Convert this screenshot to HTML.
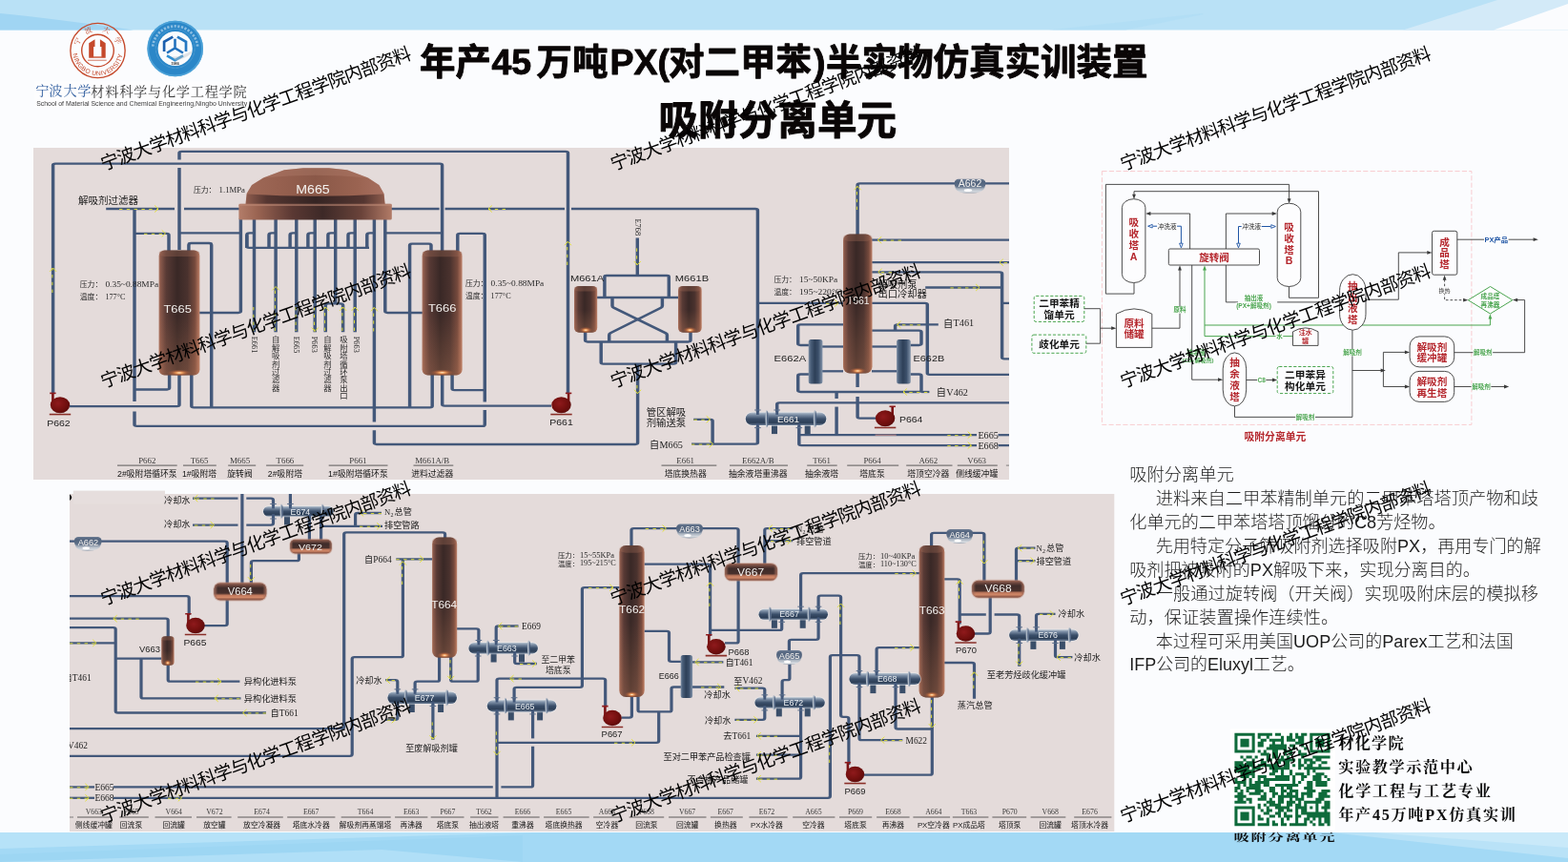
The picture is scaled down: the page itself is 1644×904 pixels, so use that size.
<!DOCTYPE html>
<html lang="zh"><head><meta charset="utf-8"><title>年产45万吨PX(对二甲苯)半实物仿真实训装置 - 吸附分离单元</title>
<style>
html,body{margin:0;padding:0;background:#fbfcfe;overflow:hidden}
body{width:1644px;height:904px;overflow:hidden;position:relative;font-family:"Liberation Sans","Noto Sans CJK SC",sans-serif;}
svg{position:absolute;left:0;top:0;display:block;will-change:transform}
svg text{font-family:"Liberation Sans","Noto Sans CJK SC",sans-serif}
svg text.s{font-family:"Liberation Serif","Noto Serif CJK SC",serif}
.t{position:absolute;color:transparent;white-space:nowrap;overflow:hidden;line-height:1.2;font-family:"Liberation Sans","Noto Sans CJK SC",sans-serif;pointer-events:none}
</style></head><body>
<svg width="1644" height="904" viewBox="0 0 1644 904"><defs><linearGradient id="gv" x1="0" x2="1" y1="0" y2="0"><stop offset="0" stop-color="#ac7461"/><stop offset=".05" stop-color="#86574a"/><stop offset=".18" stop-color="#583a35"/><stop offset=".45" stop-color="#392826"/><stop offset=".7" stop-color="#4a322e"/><stop offset=".88" stop-color="#764a3d"/><stop offset=".96" stop-color="#a66b56"/><stop offset="1" stop-color="#be856e"/></linearGradient>
<linearGradient id="gh" x1="0" x2="0" y1="0" y2="1"><stop offset="0" stop-color="#a06a59"/><stop offset=".14" stop-color="#6c463d"/><stop offset=".3" stop-color="#3f2c2a"/><stop offset=".6" stop-color="#48302c"/><stop offset=".72" stop-color="#c0795d"/><stop offset=".84" stop-color="#d08868"/><stop offset=".93" stop-color="#9a5f4c"/><stop offset="1" stop-color="#8a5747"/></linearGradient><linearGradient id="ghe" x1="0" x2="1" y1="0" y2="0"><stop offset="0" stop-color="#a06a59" stop-opacity=".95"/><stop offset=".07" stop-color="#a06a59" stop-opacity="0"/><stop offset=".93" stop-color="#a06a59" stop-opacity="0"/><stop offset="1" stop-color="#a06a59" stop-opacity=".95"/></linearGradient>
<radialGradient id="glow" cx=".5" cy=".5" r=".5"><stop offset="0" stop-color="#fff3d8"/><stop offset=".25" stop-color="#f0a060"/><stop offset=".6" stop-color="#c06a40" stop-opacity=".55"/><stop offset="1" stop-color="#a05a40" stop-opacity="0"/></radialGradient>
<linearGradient id="sv" x1="0" x2="1" y1="0" y2="0"><stop offset="0" stop-color="#7f90a6"/><stop offset=".15" stop-color="#4b607b"/><stop offset=".45" stop-color="#2e4058"/><stop offset=".7" stop-color="#3b4f6a"/><stop offset="1" stop-color="#8394aa"/></linearGradient>
<linearGradient id="sh" x1="0" x2="0" y1="0" y2="1"><stop offset="0" stop-color="#b9c4d0"/><stop offset=".18" stop-color="#7d8fa6"/><stop offset=".5" stop-color="#3a4e69"/><stop offset=".8" stop-color="#2d3f57"/><stop offset="1" stop-color="#6e8098"/></linearGradient>
<linearGradient id="ac" x1="0" x2="0" y1="0" y2="1"><stop offset="0" stop-color="#6b7b92"/><stop offset=".3" stop-color="#52647e"/><stop offset=".75" stop-color="#5d6e86"/><stop offset="1" stop-color="#8e9aab"/></linearGradient><linearGradient id="acb" x1="0" x2="0" y1="0" y2="1"><stop offset="0" stop-color="#8d99a9"/><stop offset=".5" stop-color="#b8c0ca"/><stop offset=".8" stop-color="#d9dde2"/><stop offset="1" stop-color="#8f9aa8"/></linearGradient>
<radialGradient id="pg" cx=".4" cy=".4" r=".65"><stop offset="0" stop-color="#8f1a1c"/><stop offset=".6" stop-color="#74100f"/><stop offset="1" stop-color="#5a0b0b"/></radialGradient>
<linearGradient id="dome" x1="0" x2="1" y1="0" y2="0"><stop offset="0" stop-color="#a06a58"/><stop offset=".25" stop-color="#96604f"/><stop offset=".5" stop-color="#8a5848"/><stop offset=".8" stop-color="#9a6351"/><stop offset="1" stop-color="#a87060"/></linearGradient>
<linearGradient id="domeb" x1="0" x2="1" y1="0" y2="0"><stop offset="0" stop-color="#8e5c4d"/><stop offset=".15" stop-color="#553631"/><stop offset=".5" stop-color="#352423"/><stop offset=".85" stop-color="#553631"/><stop offset="1" stop-color="#8e5c4d"/></linearGradient>
<linearGradient id="flg" x1="0" x2="1" y1="0" y2="0"><stop offset="0" stop-color="#b37d69"/><stop offset=".12" stop-color="#9a6452"/><stop offset=".35" stop-color="#5a3833"/><stop offset=".55" stop-color="#3d2927"/><stop offset=".8" stop-color="#6a433a"/><stop offset="1" stop-color="#b17a66"/></linearGradient>
<linearGradient id="vlt" x1="0" x2="0" y1="0" y2="1"><stop offset="0" stop-color="#c8835f" stop-opacity="0"/><stop offset=".5" stop-color="#c8835f" stop-opacity="0"/><stop offset="1" stop-color="#c8835f" stop-opacity=".3"/></linearGradient>
</defs><rect width="1644" height="904" fill="#fbfcfe"/><rect width="1644" height="31.5" fill="#b9e1f6"/><path d="M0 14 Q60 20 140 31.5 L0 31.5Z" fill="#a0d5f3"/><path d="M1100 31.5 L1260 14 L1262 15 L1180 31.5Z" fill="#aedcf5" opacity=".6"/><path d="M1471 31.5 L1570 0 L1644 0 L1644 31.5Z" fill="#d3eaf8"/><path d="M1566 31.5 L1644 4 L1644 31.5Z" fill="#fbfcfe"/><rect y="873" width="1644" height="31" fill="#a3d9f5"/><path d="M1395 873L1644 900V873Z" fill="#b9e2f7"/><path d="M1440 873L1644 889V873Z" fill="#c9e9f9"/><path d="M0 873 L560 873 L0 890Z" fill="#b6e2f8"/><path d="M0 904 L0 896 L548 876 L548 904Z" fill="#9dd6f3"/><path d="M0 904 L400 891 L548 904Z" fill="#b0dff7"/><rect x="35" y="155" width="1023" height="348" fill="#e4dbda"/><path d="M73 518H1168.3V872H73Z" fill="#e4dbda"/><rect x="76.8" y="514.6" width="96.2" height="14" fill="#e6dedd"/><path d="M73 518.2Q77.5 521.6 73 525Z" fill="#0a0a0a"/>
<g font-size="37.5" font-weight="bold" fill="#0a0606" stroke="#0a0606" stroke-width="0.9" stroke-linejoin="round"><text x="440" y="77.5">年产</text><text x="515.5" y="77.5">45</text><text x="562.5" y="77.5">万吨</text><text x="639.5" y="77.5">PX(</text><text x="701" y="77.5">对二甲苯</text><text x="853" y="77.5">)</text><text x="866" y="77.5">半实物仿真实训装置</text></g><text x="690.5" y="141" font-size="41.6" font-weight="bold" fill="#0a0606" stroke="#0a0606" stroke-width="1" stroke-linejoin="round">吸附分离单元</text><g fill="none" stroke="#c5492b"><circle cx="102.5" cy="53" r="28.65" stroke-width="1.35"/><circle cx="102.5" cy="53" r="16.8" stroke-width="1.4"/></g><path d="M93.2 60.7V45.2L99.5 41.3V49.1H98.1V59.2H106.4V49.1H104.9V41.3L110.7 45.2V60.7Z" fill="#c5492b"/><path d="M98.1 59.2H106.4V60.7H98.1Z" fill="#d98a74"/><path d="M92 63.2H111.7" stroke="#c5492b" stroke-width=".75"/><path id="arc1" d="M76.46 56.66A26.3 26.3 0 0 0 128.54 56.66" fill="none"/><text font-size="6.7" fill="#c5492b" textLength="74.3" lengthAdjust="spacing"><textPath href="#arc1" textLength="74.3" lengthAdjust="spacing">NINGBO UNIVERSITY</textPath></text><text class="s" transform="translate(83.68 44.62) rotate(-66)" font-size="7.6" text-anchor="middle" fill="#c5492b">宁</text><text class="s" transform="translate(93.79 34.33) rotate(-25)" font-size="7.6" text-anchor="middle" fill="#c5492b">波</text><text class="s" transform="translate(110.55 34.04) rotate(23)" font-size="7.6" text-anchor="middle" fill="#c5492b">大</text><text class="s" transform="translate(120.85 43.65) rotate(63)" font-size="7.6" text-anchor="middle" fill="#c5492b">学</text><circle cx="183.7" cy="51" r="29.3" fill="#2b87c8"/><circle cx="183.7" cy="51" r="28.4" fill="none" stroke="#55a9dc" stroke-width="1.8" opacity=".75"/><circle cx="183.7" cy="51" r="18.1" fill="#f9fbfd"/><circle cx="183.7" cy="51" r="20.4" fill="none" stroke="#cfe6f5" stroke-width="0.55" stroke-dasharray="0.5 0.8" opacity=".7"/><path d="M160.23 48.53A23.6 23.6 0 0 1 207.17 48.53" fill="none" stroke="#e9f4fb" stroke-width="2.7" stroke-dasharray="2.2 1.5" opacity=".5"/><g fill="none" stroke-width="2.7" stroke-linejoin="miter"><path d="M181.3 38.6L172.1 43.9V53.9" stroke="#1c5fae"/><path d="M185.9 38.6L195 43.9V53.9" stroke="#2678c2"/><path d="M183.5 40.8V50.5M175 55.5L183.5 50.4L192 55.5" stroke="#2271bd" stroke-width="2.6"/><path d="M175 58.3L183.5 63.2L192 58.3" stroke="#2f8fd1"/></g><path d="M180 59.5Q190 60 200.5 53.5L201 56Q192 62.5 184 63.5Z" fill="#b9bdc4" opacity=".4"/><text x="183.6" y="68.4" font-size="3.7" font-weight="bold" text-anchor="middle" fill="#2a2a2a">1986</text><rect x="36.5" y="85.5" width="223.5" height="27" fill="#fdfdfe"/><text class="s" x="37.3" y="100.2" font-size="14.2" fill="#2f5d9e">宁</text><text class="s" x="51.2" y="100.2" font-size="14.2" fill="#2f5d9e">波</text><text class="s" x="66.6" y="100.2" font-size="14.2" fill="#2f5d9e">大</text><text class="s" x="81.2" y="100.2" font-size="14.2" fill="#2f5d9e">学</text><text class="s" x="95.3" y="100.6" font-size="14.2" fill="#3a3a3a" textLength="163.4" lengthAdjust="spacing">材料科学与化学工程学院</text><text x="38.2" y="110.9" font-size="6.8" fill="#3c3c3c" textLength="221" lengthAdjust="spacingAndGlyphs">School of Material Science and Chemical Engineering,Ningbo University</text>
<clipPath id="c1"><rect x="35" y="155" width="1023" height="348"/></clipPath><g clip-path="url(#c1)"><g fill="none" stroke="#43587a" stroke-width="3.45" stroke-linejoin="round" stroke-linecap="butt" transform="scale(1 0.66)"><path d="M188 396.97L188 266.67"/><path d="M188 253.64L188 243.11Q188 240.61 190.5 240.61L593 240.61Q595.5 240.61 595.5 243.11L595.5 624.24"/><path d="M55.6 625L55.6 262.65Q55.6 260.15 58.1 260.15L461.1 260.15Q463.6 260.15 463.6 262.65L463.6 398.48"/><path d="M111.2 331.82L183 331.82"/><path d="M193 331.82L251 331.82"/><path d="M410 331.82L460.6 331.82"/><path d="M466.6 331.82L592 331.82"/><path d="M599 331.82L791.9 331.82Q794.4 331.82 794.4 334.32L794.4 703.11Q794.4 705.61 791.9 705.61L725 705.61"/><path d="M141 331.82L141 637.88"/><path d="M141 653.79L141 674.62Q141 677.12 143.5 677.12L505.8 677.12Q508.3 677.12 508.3 674.62L508.3 651.52"/><path d="M508.3 638.64L508.3 373.41Q508.3 370.91 505.8 370.91L482.3 370.91Q479.8 370.91 479.8 373.41L479.8 400"/><path d="M141 371.06L174.5 371.06Q177 371.06 177 373.56L177 400"/><path d="M188 370.3L252.4 370.3"/><path d="M197.9 400L197.9 388.86Q197.9 386.36 200.4 386.36L219.2 386.36Q221.7 386.36 221.7 388.86L221.7 647.58"/><path d="M207 496.97L249.9 496.97Q252.4 496.97 252.4 494.47L252.4 346.97"/><path d="M177.6 593.94L177.6 616.44Q177.6 618.94 175.1 618.94L141 618.94"/><path d="M73 645.76L185.5 645.76Q188 645.76 188 643.26L188 593.94"/><path d="M200.8 593.94L200.8 645.08Q200.8 647.58 203.3 647.58L450.7 647.58Q453.2 647.58 453.2 645.08L453.2 593.94"/><path d="M266.5 346.97L266.5 527.73"/><path d="M289.1 346.97L289.1 527.73"/><path d="M310.8 346.97L310.8 527.73"/><path d="M330.2 346.97L330.2 527.73"/><path d="M372.2 346.97L372.2 527.73"/><path d="M351.7 346.97L351.7 482.27"/><path d="M341.3 527.73L341.3 485.27Q341.3 482.27 344.3 482.27L356.6 482.27Q359.6 482.27 359.6 485.27L359.6 527.73"/><path d="M392.4 346.97L392.4 670.61"/><path d="M392.4 683.64L392.4 703.56Q392.4 706.06 394.9 706.06L666.1 706.06Q668.6 706.06 668.6 703.56L668.6 578.18"/><path d="M403.8 346.97L403.8 494.47Q403.8 496.97 406.3 496.97L443 496.97"/><path d="M403.8 370.3L463.6 370.3"/><path d="M258.8 373.48L258.8 391.29Q258.8 393.79 261.3 393.79L387 393.79"/><path d="M258.8 393.94L258.8 373.3Q258.8 370.3 261.8 370.3L266.5 370.3"/><path d="M282 393.94L282 373.3Q282 370.3 285 370.3L289.1 370.3"/><path d="M304.1 393.94L304.1 373.3Q304.1 370.3 307.1 370.3L310.8 370.3"/><path d="M322.9 393.94L322.9 373.3Q322.9 370.3 325.9 370.3L330.2 370.3"/><path d="M343.9 393.94L343.9 373.3Q343.9 370.3 346.9 370.3L351.7 370.3"/><path d="M365 393.94L365 373.3Q365 370.3 368 370.3L372.2 370.3"/><path d="M384.8 393.94L384.8 373.3Q384.8 370.3 387.8 370.3L392.4 370.3"/><path d="M452 400L452 389.92Q452 387.42 449.5 387.42L432.1 387.42Q429.6 387.42 429.6 389.92L429.6 647.58"/><path d="M463.7 593.94L463.7 642.35Q463.7 644.85 466.2 644.85L578 644.85"/><path d="M474.1 593.94L474.1 617.5Q474.1 620 476.6 620L508.3 620"/><path d="M668.3 378.03L668.3 437.88"/><path d="M633.9 472.73L633.9 439.88Q633.9 437.88 635.9 437.88L699.3 437.88Q701.3 437.88 701.3 439.88L701.3 472.73"/><path d="M625 472.73L712 472.73"/><path d="M642 472.73L642 485.88Q642 487.88 643.61 489.07L697.79 529.11Q699.4 530.3 699.4 532.3L699.4 543.18"/><path d="M694.4 472.73L694.4 485.88Q694.4 487.88 692.81 489.09L640.29 529.09Q638.7 530.3 638.7 532.3L638.7 543.18"/><path d="M613.6 525.76L613.6 540.68Q613.6 543.18 616.1 543.18L721.5 543.18Q724 543.18 724 540.68L724 525.76"/><path d="M630.2 543.18L630.2 575.68Q630.2 578.18 632.7 578.18L706.1 578.18Q708.6 578.18 708.6 575.68L708.6 543.18"/><path d="M727.2 666.36L744.6 666.36Q747.1 666.36 747.1 668.86L747.1 705.61"/><path d="M794.4 481.67L884 481.67"/><path d="M899.1 372.73L899.1 294.02Q899.1 291.52 901.6 291.52L1058 291.52"/><path d="M914 381.36L1058 381.36"/><path d="M914 416.97L1058 416.97"/><path d="M914 432.27L1048.1 432.27Q1050.6 432.27 1050.6 434.77L1050.6 567.65Q1050.6 570.15 1053.1 570.15L1058 570.15"/><path d="M970.2 456.82L1050.6 456.82"/><path d="M1050.6 481.67L1058 481.67"/><path d="M914 481.67L969.8 481.67Q972.3 481.67 972.3 484.17L972.3 592.8Q972.3 595.3 974.8 595.3L1058 595.3"/><path d="M848 548.48L839.2 548.48Q836.7 548.48 836.7 545.98L836.7 518.26Q836.7 515.76 839.2 515.76L884 515.76"/><path d="M862 550.76L884 550.76"/><path d="M862 589.85L884 589.85"/><path d="M848 594.7L839.2 594.7Q836.7 594.7 836.7 597.2L836.7 620.23Q836.7 622.73 839.2 622.73L963.5 622.73Q966 622.73 966 620.23L966 597.2Q966 594.7 963.5 594.7L954.5 594.7"/><path d="M914 525.3L963.5 525.3Q966 525.3 966 527.8L966 545.98Q966 548.48 963.5 548.48L954.5 548.48"/><path d="M914 550.76L940.4 550.76"/><path d="M914 589.85L940.4 589.85"/><path d="M983.8 515.76L941.1 515.76Q938.6 515.76 938.6 518.26L938.6 525.3"/><path d="M974.4 622.73L966 622.73"/><path d="M899.1 592.42L899.1 615.15"/><path d="M899.1 630.3L899.1 662.2Q899.1 664.7 901.6 664.7L918 664.7"/><path d="M814.7 656.06L814.7 642.35Q814.7 639.85 817.2 639.85L1058 639.85"/><path d="M877.1 622.73L877.1 633.33"/><path d="M877.1 646.36L877.1 691.21"/><path d="M837.8 674.24L837.8 705.23Q837.8 707.73 840.3 707.73L1024 707.73"/><path d="M1046.5 707.73L1058 707.73"/><path d="M837.8 691.21L1024 691.21"/><path d="M1046.5 691.21L1058 691.21"/></g><rect x="166.6" y="262.4" width="42.8" height="131.2" rx="6" ry="6" fill="url(#gv)"/><rect x="166.6" y="262.4" width="42.8" height="6.6" rx="6" ry="6" fill="#a06a57" opacity=".35"/><rect x="166.6" y="262.4" width="42.8" height="131.2" rx="6" ry="6" fill="url(#vlt)"/><ellipse cx="188" cy="391" rx="12.84" ry="3.4" fill="url(#glow)"/><rect x="442.6" y="262.6" width="42" height="130.8" rx="6" ry="6" fill="url(#gv)"/><rect x="442.6" y="262.6" width="42" height="6.6" rx="6" ry="6" fill="#a06a57" opacity=".35"/><rect x="442.6" y="262.6" width="42" height="130.8" rx="6" ry="6" fill="url(#vlt)"/><ellipse cx="463.6" cy="390.8" rx="12.6" ry="3.4" fill="url(#glow)"/><rect x="602" y="299.9" width="24.2" height="48.9" rx="5" ry="5" fill="url(#gv)"/><rect x="602" y="299.9" width="24.2" height="5.5" rx="5" ry="5" fill="#a06a57" opacity=".35"/><rect x="602" y="299.9" width="24.2" height="48.9" rx="5" ry="5" fill="url(#vlt)"/><ellipse cx="614.1" cy="346.2" rx="7.26" ry="3.4" fill="url(#glow)"/><rect x="711" y="299.9" width="24.7" height="48.9" rx="5" ry="5" fill="url(#gv)"/><rect x="711" y="299.9" width="24.7" height="5.5" rx="5" ry="5" fill="#a06a57" opacity=".35"/><rect x="711" y="299.9" width="24.7" height="48.9" rx="5" ry="5" fill="url(#vlt)"/><ellipse cx="723.35" cy="346.2" rx="7.41" ry="3.4" fill="url(#glow)"/><rect x="884" y="245.4" width="30.5" height="146.2" rx="7" ry="7" fill="url(#gv)"/><rect x="884" y="245.4" width="30.5" height="7.7" rx="7" ry="7" fill="#a06a57" opacity=".35"/><rect x="884" y="245.4" width="30.5" height="146.2" rx="7" ry="7" fill="url(#vlt)"/><ellipse cx="899.25" cy="389" rx="9.15" ry="3.4" fill="url(#glow)"/><path d="M257.4 214.5L258.6 203L264 194L276 186.5L298 178.2L318 176.2L345 176.2L364 178.2L386 186.5L397.5 194L402.6 203L403.8 214.5Z" fill="url(#dome)"/><path d="M258 214.5L259 203.6Q330 208 402.2 203.6L403.4 214.5Z" fill="url(#domeb)"/><path d="M276 186.5L298 178.2L318 176.2L345 176.2L364 178.2L386 186.5Q330 181 276 186.5Z" fill="#b58270" opacity=".35"/><rect x="250.4" y="213.8" width="160.4" height="16.6" rx="1.5" fill="url(#flg)"/><rect x="250.4" y="213.8" width="160.4" height="2.2" fill="#c08a76" opacity=".55"/><rect x="847.7" y="356.1" width="14.7" height="46.3" rx="2.5" fill="url(#sv)"/><rect x="940.1" y="356.1" width="14.7" height="46.3" rx="2.5" fill="url(#sv)"/><rect x="809" y="445.1" width="6" height="10" fill="#3a4e69"/><rect x="843.7" y="445.1" width="6" height="10" fill="#3a4e69"/><rect x="781" y="431.7" width="86.1" height="15.2" rx="7.6" fill="#eef0f3" opacity=".55"/><rect x="781.8" y="432.5" width="84.5" height="13.6" rx="6.8" fill="url(#sh)"/><ellipse cx="803.9" cy="439.3" rx="1.5" ry="9.2" fill="#aeb9c6"/><ellipse cx="804.8" cy="439.3" rx="0.7" ry="8.4" fill="#44597a"/><ellipse cx="854.3" cy="439.3" rx="1.5" ry="9.2" fill="#aeb9c6"/><ellipse cx="855.2" cy="439.3" rx="0.7" ry="8.4" fill="#44597a"/><rect x="793" y="429.3" width="2.8" height="5.6" fill="#43587a"/><rect x="791.1" y="429.5" width="6.6" height="1" fill="#5d708c"/><rect x="813.3" y="429.3" width="2.8" height="5.6" fill="#43587a"/><rect x="811.4" y="429.5" width="6.6" height="1" fill="#5d708c"/><rect x="793" y="443.7" width="2.8" height="5.6" fill="#43587a"/><rect x="791.1" y="448.1" width="6.6" height="1" fill="#5d708c"/><rect x="836.4" y="443.7" width="2.8" height="5.6" fill="#43587a"/><rect x="834.5" y="448.1" width="6.6" height="1" fill="#5d708c"/><path d="M55.4 422.8V412.2" stroke="#7a1214" stroke-width="2.6"/><path d="M52.2 412.4H58.6" stroke="#8c1a1c" stroke-width="1.6"/><ellipse cx="63" cy="424.8" rx="10.2" ry="8.57" fill="url(#pg)"/><path d="M51.8 434.57H74.2" stroke="#8a2f28" stroke-width="1.6"/><path d="M596.1 422.8V412.2" stroke="#7a1214" stroke-width="2.6"/><path d="M592.9 412.4H599.3" stroke="#8c1a1c" stroke-width="1.6"/><ellipse cx="588.5" cy="424.8" rx="10.2" ry="8.57" fill="url(#pg)"/><path d="M577.3 434.57H599.7" stroke="#8a2f28" stroke-width="1.6"/><path d="M935.7 436.7V426.1" stroke="#7a1214" stroke-width="2.6"/><path d="M932.5 426.3H938.9" stroke="#8c1a1c" stroke-width="1.6"/><ellipse cx="928.1" cy="438.7" rx="10.2" ry="8.57" fill="url(#pg)"/><path d="M916.9 448.47H939.3" stroke="#8a2f28" stroke-width="1.6"/><path d="M917.6 456.2H939.7" stroke="#c98a84" stroke-width="1"/><path d="M1001.2 195.4Q1002.2 202.8 1017 202.6T1032.8 195.4Z" fill="url(#acb)"/><rect x="1000.7" y="187.7" width="32.6" height="9.8" rx="4.2" fill="url(#ac)"/><ellipse cx="1015" cy="199.6" rx="4.24" ry="1.5" fill="#fff" opacity=".95"/><g fill="none" stroke="#e4e234" stroke-width="0.95"><path d="M54.9 307L54.9 281" stroke-dasharray="3.4 4.4"/><path d="M59.11 284.83L55.6 281L52.09 284.83"/><path d="M125 219.45L166 219.45" stroke-dasharray="3.4 4.4"/><path d="M162.17 222.51L166 219L162.17 215.49"/><path d="M151 245.35L173.5 245.35" stroke-dasharray="3.4 4.4"/><path d="M169.67 248.41L173.5 244.9L169.67 241.39"/><path d="M265.8 322L265.8 347" stroke-dasharray="3.4 4.4"/><path d="M288.4 347L288.4 300.5" stroke-dasharray="3.4 4.4"/><path d="M292.61 304.33L289.1 300.5L285.59 304.33"/><path d="M310.1 322L310.1 347" stroke-dasharray="3.4 4.4"/><path d="M329.5 322L329.5 347.4" stroke-dasharray="3.4 4.4"/><path d="M326.69 343.57L330.2 347.4L333.71 343.57"/><path d="M340.6 347L340.6 322" stroke-dasharray="3.4 4.4"/><path d="M344.81 325.83L341.3 322L337.79 325.83"/><path d="M358.9 347L358.9 322" stroke-dasharray="3.4 4.4"/><path d="M363.11 325.83L359.6 322L356.09 325.83"/><path d="M371.5 347L371.5 322" stroke-dasharray="3.4 4.4"/><path d="M375.71 325.83L372.2 322L368.69 325.83"/><path d="M391.7 347.5L391.7 322.5" stroke-dasharray="3.4 4.4"/><path d="M395.91 326.33L392.4 322.5L388.89 326.33"/><path d="M530 219.45L512 219.45" stroke-dasharray="3.4 4.4"/><path d="M515.83 215.49L512 219L515.83 222.51"/><path d="M594.8 278L594.8 253.4" stroke-dasharray="3.4 4.4"/><path d="M599.01 257.23L595.5 253.4L591.99 257.23"/><path d="M667.6 260.4L667.6 277.8" stroke-dasharray="3.4 4.4"/><path d="M664.79 273.97L668.3 277.8L671.81 273.97"/><path d="M667.9 404L667.9 412.6" stroke-dasharray="3.4 4.4"/><path d="M665.09 408.77L668.6 412.6L672.11 408.77"/><path d="M727.5 440.25L744.5 440.25" stroke-dasharray="3.4 4.4"/><path d="M740.67 443.31L744.5 439.8L740.67 436.29"/><path d="M725 466.15L747.5 466.15" stroke-dasharray="3.4 4.4"/><path d="M743.67 469.21L747.5 465.7L743.67 462.19"/><path d="M898.4 220L898.4 195.4" stroke-dasharray="3.4 4.4"/><path d="M902.61 199.23L899.1 195.4L895.59 199.23"/><path d="M945 252.15L920.4 252.15" stroke-dasharray="3.4 4.4"/><path d="M924.23 248.19L920.4 251.7L924.23 255.21"/><path d="M1056 275.65L1048 275.65" stroke-dasharray="3.4 4.4"/><path d="M1051.83 271.69L1048 275.2L1051.83 278.71"/><path d="M935 285.75L920.8 285.75" stroke-dasharray="3.4 4.4"/><path d="M924.63 281.79L920.8 285.3L924.63 288.81"/><path d="M996.4 301.95L1027 301.95" stroke-dasharray="3.4 4.4"/><path d="M1023.17 305.01L1027 301.5L1023.17 297.99"/><path d="M866 318.35L879 318.35" stroke-dasharray="3.4 4.4"/><path d="M875.17 321.41L879 317.9L875.17 314.39"/><path d="M965 340.85L940.7 340.85" stroke-dasharray="3.4 4.4"/><path d="M944.53 336.89L940.7 340.4L944.53 343.91"/><path d="M972.3 411.45L947 411.45" stroke-dasharray="3.4 4.4"/><path d="M950.83 407.49L947 411L950.83 414.51"/><path d="M993.3 456.65L1018.5 456.65" stroke-dasharray="3.4 4.4"/><path d="M1014.67 459.71L1018.5 456.2L1014.67 452.69"/><path d="M993.3 467.55L1018.5 467.55" stroke-dasharray="3.4 4.4"/><path d="M1014.67 470.61L1018.5 467.1L1014.67 463.59"/></g><text x="186.2" y="327.8" font-size="11.6" fill="#f4f1ee" text-anchor="middle"  textLength="29.5" lengthAdjust="spacingAndGlyphs">T665</text><text x="463.7" y="326.6" font-size="11.6" fill="#f4f1ee" text-anchor="middle"  textLength="29.5" lengthAdjust="spacingAndGlyphs">T666</text><text x="328" y="203.2" font-size="12.4" fill="#f4f1ee" text-anchor="middle"  textLength="35.5" lengthAdjust="spacingAndGlyphs">M665</text><text x="899.8" y="319.4" font-size="10.4" fill="#f4f1ee" text-anchor="middle" >T661</text><text x="826.4" y="442.9" font-size="9.8" fill="#f4f1ee" text-anchor="middle" >E661</text><text x="1017" y="196.4" font-size="10" fill="#f4f1ee" text-anchor="middle"  textLength="24.5" lengthAdjust="spacingAndGlyphs">A662</text><text x="61.4" y="447" font-size="9.6" fill="#222" text-anchor="middle"  textLength="24.5" lengthAdjust="spacingAndGlyphs">P662</text><text x="588.5" y="445.8" font-size="9.6" fill="#222" text-anchor="middle"  textLength="24.5" lengthAdjust="spacingAndGlyphs">P661</text><text x="942.9" y="443.3" font-size="9.8" fill="#222"  textLength="24.5" lengthAdjust="spacingAndGlyphs">P664</text><text x="597.9" y="295.4" font-size="9.9" fill="#222"  textLength="35.3" lengthAdjust="spacingAndGlyphs">M661A</text><text x="707.8" y="295.4" font-size="9.9" fill="#222"  textLength="35.3" lengthAdjust="spacingAndGlyphs">M661B</text><text x="811.5" y="378.9" font-size="9.8" fill="#222"  textLength="33.6" lengthAdjust="spacingAndGlyphs">E662A</text><text x="957.6" y="378.9" font-size="9.8" fill="#222"  textLength="32.6" lengthAdjust="spacingAndGlyphs">E662B</text><text x="82" y="213.8" font-size="10.5" fill="#222">解吸剂过滤器</text><text x="203" y="202" font-size="7.8" fill="#2a2a2a">压力：</text><text x="229.6" y="201.7" font-size="7.8" fill="#2a2a2a" class="s"  textLength="27.4" lengthAdjust="spacingAndGlyphs">1.1MPa</text><text x="83.8" y="301.4" font-size="7.8" fill="#2a2a2a">压力：</text><text x="110.4" y="301.1" font-size="7.8" fill="#2a2a2a" class="s"  textLength="55.7" lengthAdjust="spacingAndGlyphs">0.35~0.88MPa</text><text x="83.8" y="314.2" font-size="7.8" fill="#2a2a2a">温度：</text><text x="110.4" y="313.9" font-size="7.8" fill="#2a2a2a" class="s"  textLength="21" lengthAdjust="spacingAndGlyphs">177°C</text><text x="488" y="300.3" font-size="7.8" fill="#2a2a2a">压力：</text><text x="514.6" y="300" font-size="7.8" fill="#2a2a2a" class="s"  textLength="55.7" lengthAdjust="spacingAndGlyphs">0.35~0.88MPa</text><text x="488" y="313" font-size="7.8" fill="#2a2a2a">温度：</text><text x="514.6" y="312.7" font-size="7.8" fill="#2a2a2a" class="s"  textLength="21" lengthAdjust="spacingAndGlyphs">177°C</text><text x="811.5" y="296.4" font-size="7.8" fill="#2a2a2a">压力：</text><text x="838.1" y="296.1" font-size="7.8" fill="#2a2a2a" class="s"  textLength="40" lengthAdjust="spacingAndGlyphs">15~50KPa</text><text x="811.5" y="309" font-size="7.8" fill="#2a2a2a">温度：</text><text x="838.1" y="308.7" font-size="7.8" fill="#2a2a2a" class="s"  textLength="44" lengthAdjust="spacingAndGlyphs">195~220°C</text><text x="263.7" y="352.7" font-size="8.4" fill="#2a2a2a" class="s" transform="rotate(90 263.7 352.7)" >E661</text><text x="308" y="352.7" font-size="8.4" fill="#2a2a2a" class="s" transform="rotate(90 308 352.7)" >E665</text><text x="327.4" y="352.7" font-size="8.4" fill="#2a2a2a" class="s" transform="rotate(90 327.4 352.7)" >P663</text><text x="371.4" y="352.7" font-size="8.4" fill="#2a2a2a" class="s" transform="rotate(90 371.4 352.7)" >P663</text><text font-size="8.4" fill="#2a2a2a"><tspan x="284.9" y="359.42">自</tspan><tspan x="284.9" y="367.82">解</tspan><tspan x="284.9" y="376.22">吸</tspan><tspan x="284.9" y="384.62">剂</tspan><tspan x="284.9" y="393.02">过</tspan><tspan x="284.9" y="401.42">滤</tspan><tspan x="284.9" y="409.82">器</tspan></text><text font-size="8.4" fill="#2a2a2a"><tspan x="339.3" y="359.42">自</tspan><tspan x="339.3" y="367.82">解</tspan><tspan x="339.3" y="376.22">吸</tspan><tspan x="339.3" y="384.62">剂</tspan><tspan x="339.3" y="393.02">过</tspan><tspan x="339.3" y="401.42">滤</tspan><tspan x="339.3" y="409.82">器</tspan></text><text font-size="8.4" fill="#2a2a2a"><tspan x="356.3" y="359.42">吸</tspan><tspan x="356.3" y="367.82">附</tspan><tspan x="356.3" y="376.22">塔</tspan><tspan x="356.3" y="384.62">循</tspan><tspan x="356.3" y="393.02">环</tspan><tspan x="356.3" y="401.42">泵</tspan><tspan x="356.3" y="409.82">出</tspan><tspan x="356.3" y="418.22">口</tspan></text><text x="665.5" y="229.5" font-size="8.4" fill="#2a2a2a" class="s" transform="rotate(90 665.5 229.5)" >E768</text><text x="677.7" y="436.2" font-size="10.4" fill="#222">管区解吸</text><text x="677.7" y="446.8" font-size="10.4" fill="#222">剂输送泵</text><text x="680.9" y="470.4" font-size="10.2" fill="#222">自</text><text x="691.5" y="470.2" font-size="10.2" fill="#222" class="s" >M665</text><text x="920.4" y="301.6" font-size="10.3" fill="#222">解吸剂泵</text><text x="920.4" y="312.2" font-size="10.3" fill="#222">出口冷却器</text><text x="989" y="342.6" font-size="10.2" fill="#222">自</text><text x="999.6" y="342.4" font-size="10.2" fill="#222" class="s" >T461</text><text x="981.7" y="414.7" font-size="10.2" fill="#222">自</text><text x="992.3" y="414.5" font-size="10.2" fill="#222" class="s" >V462</text><text x="1025.4" y="459.6" font-size="10.2" fill="#222" class="s" >E665</text><text x="1025.4" y="470.6" font-size="10.2" fill="#222" class="s" >E668</text><text x="154.3" y="485.5" font-size="8.9" fill="#3a3a3a" text-anchor="middle" class="s" >P662</text><path d="M123 488.1H185.7" stroke="#3a3a3a" stroke-width=".8"/><text x="154.3" y="500.1" font-size="8.8" fill="#161616" text-anchor="middle">2#吸附塔循环泵</text><text x="209" y="485.5" font-size="8.9" fill="#3a3a3a" text-anchor="middle" class="s" >T665</text><path d="M192 488.1H226.8" stroke="#3a3a3a" stroke-width=".8"/><text x="209" y="500.1" font-size="8.8" fill="#161616" text-anchor="middle">1#吸附塔</text><text x="251.5" y="485.5" font-size="8.9" fill="#3a3a3a" text-anchor="middle" class="s" >M665</text><path d="M239.2 488.1H268.2" stroke="#3a3a3a" stroke-width=".8"/><text x="251.5" y="500.1" font-size="8.8" fill="#161616" text-anchor="middle">旋转阀</text><text x="298.9" y="485.5" font-size="8.9" fill="#3a3a3a" text-anchor="middle" class="s" >T666</text><path d="M279.1 488.1H318.2" stroke="#3a3a3a" stroke-width=".8"/><text x="298.9" y="500.1" font-size="8.8" fill="#161616" text-anchor="middle">2#吸附塔</text><text x="375.4" y="485.5" font-size="8.9" fill="#3a3a3a" text-anchor="middle" class="s" >P661</text><path d="M344.7 488.1H406.5" stroke="#3a3a3a" stroke-width=".8"/><text x="375.4" y="500.1" font-size="8.8" fill="#161616" text-anchor="middle">1#吸附塔循环泵</text><text x="453.2" y="485.5" font-size="8.9" fill="#3a3a3a" text-anchor="middle" class="s" >M661A/B</text><path d="M433.5 488.1H475.3" stroke="#3a3a3a" stroke-width=".8"/><text x="453.2" y="500.1" font-size="8.8" fill="#161616" text-anchor="middle">进料过滤器</text><text x="718.7" y="485.5" font-size="8.9" fill="#3a3a3a" text-anchor="middle" class="s" >E661</text><path d="M693.5 488.1H751.3" stroke="#3a3a3a" stroke-width=".8"/><text x="718.7" y="500.1" font-size="8.8" fill="#161616" text-anchor="middle">塔底换热器</text><text x="794.8" y="485.5" font-size="8.9" fill="#3a3a3a" text-anchor="middle" class="s" >E662A/B</text><path d="M765 488.1H826" stroke="#3a3a3a" stroke-width=".8"/><text x="794.8" y="500.1" font-size="8.8" fill="#161616" text-anchor="middle">抽余液塔重沸器</text><text x="861.5" y="485.5" font-size="8.9" fill="#3a3a3a" text-anchor="middle" class="s" >T661</text><path d="M846.2 488.1H877.7" stroke="#3a3a3a" stroke-width=".8"/><text x="861.5" y="500.1" font-size="8.8" fill="#161616" text-anchor="middle">抽余液塔</text><text x="914.5" y="485.5" font-size="8.9" fill="#3a3a3a" text-anchor="middle" class="s" >P664</text><path d="M888.2 488.1H942.2" stroke="#3a3a3a" stroke-width=".8"/><text x="914.5" y="500.1" font-size="8.8" fill="#161616" text-anchor="middle">塔底泵</text><text x="973.3" y="485.5" font-size="8.9" fill="#3a3a3a" text-anchor="middle" class="s" >A662</text><path d="M950.2 488.1H998.5" stroke="#3a3a3a" stroke-width=".8"/><text x="973.3" y="500.1" font-size="8.8" fill="#161616" text-anchor="middle">塔顶空冷器</text><text x="1024.2" y="485.5" font-size="8.9" fill="#3a3a3a" text-anchor="middle" class="s" >V663</text><path d="M1003.8 488.1H1045.8" stroke="#3a3a3a" stroke-width=".8"/><text x="1024.2" y="500.1" font-size="8.8" fill="#161616" text-anchor="middle">侧线缓冲罐</text><path d="M1054.9 488.1H1058" stroke="#555" stroke-width=".7"/></g>
<clipPath id="c2"><path d="M73 518H1168.3V872H73Z"/></clipPath><g clip-path="url(#c2)"><g fill="none" stroke="#43587a" stroke-width="3.2" stroke-linejoin="round" stroke-linecap="butt" transform="scale(1 0.71)"><path d="M70 799.44L235.7 799.44Q238.2 799.44 238.2 801.94L238.2 861.97"/><path d="M202 736.06L249.5 736.06"/><path d="M258.3 736.06L284 736.06Q286.5 736.06 286.5 738.56L286.5 749.3"/><path d="M202 775.49L249.5 775.49"/><path d="M258.3 775.49L284 775.49Q286.5 775.49 286.5 772.99L286.5 761.97"/><path d="M253.9 728.17L253.9 861.97"/><path d="M304.4 728.17L304.4 749.3"/><path d="M324.4 761.97L324.4 797.18"/><path d="M336.6 761.97L336.6 797.18"/><path d="M336.6 777.18L401 777.18"/><path d="M372.6 777.18L372.6 760.25Q372.6 757.75 375.1 757.75L400 757.75"/><path d="M313.4 816.9L313.4 825.95Q313.4 828.45 310.9 828.45L265.9 828.45Q263.4 828.45 263.4 830.95L263.4 861.97"/><path d="M238.2 885.92L238.2 921.58Q238.2 924.08 235.7 924.08L214 924.08"/><path d="M198.2 908.45L198.2 883.06Q198.2 880.56 195.7 880.56L70 880.56"/><path d="M70 913.66L173.7 913.66Q176.2 913.66 176.2 916.16L176.2 940.85"/><path d="M70 927.04L118.7 927.04Q121.2 927.04 121.2 929.54L121.2 1050.32Q121.2 1052.82 123.7 1052.82L279 1052.82"/><path d="M70 949.86L121.2 949.86"/><path d="M121.2 972.68L169.5 972.68"/><path d="M148 972.68L148 1029.05Q148 1031.55 150.5 1031.55L252.5 1031.55"/><path d="M176.2 981.69L176.2 1004.12Q176.2 1006.62 178.7 1006.62L251.4 1006.62"/><path d="M70 1076.2L358.2 1076.2Q360.7 1076.2 360.7 1073.7L360.7 788.98Q360.7 786.48 363.2 786.48L464.1 786.48Q466.6 786.48 466.6 788.98L466.6 795.77"/><path d="M70 1116.62L366.7 1116.62Q369.2 1116.62 369.2 1114.12L369.2 973.2Q369.2 970.7 371.7 970.7L419.9 970.7Q422.4 970.7 422.4 968.2L422.4 825.77"/><path d="M70 1162.54L99 1162.54"/><path d="M118.6 1162.54L516.8 1162.54"/><path d="M525.4 1162.54L556.1 1162.54Q558.6 1162.54 558.6 1160.04L558.6 1102.54"/><path d="M558.6 1090.7L558.6 1050.7"/><path d="M70 1178.59L99 1178.59"/><path d="M118.6 1178.59L867.9 1178.59Q870.4 1178.59 870.4 1176.09L870.4 970.25Q870.4 967.75 872.9 967.75L898.5 967.75Q901 967.75 901 970.25L901 995.77"/><path d="M415.3 825.77L453.5 825.77"/><path d="M479 928.59L499.4 928.59Q501.9 928.59 501.9 931.09L501.9 950.7"/><path d="M520.2 950.7L520.2 927.15Q520.2 924.65 522.7 924.65L543.5 924.65"/><path d="M539.7 964.79L539.7 977.78Q539.7 980.28 542.2 980.28L562.8 980.28"/><path d="M460.6 970.42L460.6 1004.12Q460.6 1006.62 458.1 1006.62L437.6 1006.62Q435.1 1006.62 435.1 1009.12L435.1 1022.54"/><path d="M472.7 970.42L472.7 1004.12Q472.7 1006.62 475.2 1006.62L498.7 1006.62Q501.2 1006.62 501.2 1004.12L501.2 964.79"/><path d="M404.2 1004.51L414.3 1004.51Q416.8 1004.51 416.8 1007.01L416.8 1022.54"/><path d="M404.2 1063.1L414.3 1063.1Q416.8 1063.1 416.8 1060.6L416.8 1038.73"/><path d="M453.9 1038.73L453.9 1092.68"/><path d="M521 1035.21L521 1004.75Q521 1002.25 523.5 1002.25L632.2 1002.25Q634.7 1002.25 634.7 1004.75L634.7 1043.66"/><path d="M539.1 1035.21L539.1 1017.71Q539.1 1015.21 541.6 1015.21L607.9 1015.21Q610.4 1015.21 610.4 1012.71L610.4 870.39Q610.4 867.89 612.9 867.89L649.8 867.89"/><path d="M521 1050.7L521 1178.59"/><path d="M521 1096.9L688.2 1096.9Q690.7 1096.9 690.7 1094.4L690.7 1051.27"/><path d="M662 807.04L662 782.92Q662 780.42 664.5 780.42L771.6 780.42Q774.1 780.42 774.1 782.92L774.1 947.36Q774.1 949.86 771.6 949.86L760 949.86"/><path d="M675.4 833.24L742.1 833.24Q744.6 833.24 744.6 835.74L744.6 939.44"/><path d="M744.6 930.85L817.2 930.85Q819.7 930.85 819.7 928.35L819.7 914.65"/><path d="M801.8 833.1L801.8 782.92Q801.8 780.42 804.3 780.42L831.2 780.42"/><path d="M801.8 798.87L831.2 798.87"/><path d="M675.4 932.11L699 932.11Q701.5 932.11 701.5 934.61L701.5 974.68Q701.5 977.18 704 977.18L714.2 977.18"/><path d="M758.4 978.03L725.8 978.03"/><path d="M662.4 1028.73L662.4 1057.5Q662.4 1060 659.9 1060L651.5 1060"/><path d="M669 1028.73L669 1048.77Q669 1051.27 671.5 1051.27L701.5 1051.27Q704 1051.27 704 1048.77L704 1017.29Q704 1014.79 706.5 1014.79L714.2 1014.79"/><path d="M725.8 1014.79L759.3 1014.79"/><path d="M839.6 900.42L839.6 849.26Q839.6 846.76 842.1 846.76L964 846.76"/><path d="M858.1 900.42L858.1 882.22Q858.1 879.72 860.6 879.72L879.1 879.72Q881.6 879.72 881.6 882.22L881.6 1056.51Q881.6 1059.01 884.1 1059.01L887.4 1059.01Q889.9 1059.01 889.9 1061.51L889.9 1129.58"/><path d="M858.1 914.65L858.1 942.29Q858.1 944.79 855.6 944.79L829.9 944.79Q827.4 944.79 827.4 947.29L827.4 961.97"/><path d="M827.9 978.87L827.9 1002.01Q827.9 1004.51 825.4 1004.51L822.6 1004.51Q820.1 1004.51 820.1 1007.01L820.1 1030.99"/><path d="M770.4 1016.34L799.3 1016.34Q801.8 1016.34 801.8 1018.84L801.8 1030.99"/><path d="M770.4 1063.1L799.3 1063.1Q801.8 1063.1 801.8 1060.6L801.8 1045.07"/><path d="M839.6 1045.07L839.6 1147.78Q839.6 1150.28 837.1 1150.28L792.9 1150.28"/><path d="M839.6 1087.04L792.9 1087.04"/><path d="M839.6 1115.07L792.9 1115.07"/><path d="M976.6 807.04L976.6 789.54Q976.6 787.04 979.1 787.04L1029.4 787.04Q1031.9 787.04 1031.9 789.54L1031.9 858.31"/><path d="M990 855.35L1003.7 855.35Q1006.2 855.35 1006.2 857.85L1006.2 921.83"/><path d="M1006.2 907.75L1033.8 907.75"/><path d="M1042.6 907.75L1066.2 907.75Q1068.7 907.75 1068.7 910.25L1068.7 930.99"/><path d="M1038.2 881.69L1038.2 933.42Q1038.2 935.92 1035.7 935.92L1021 935.92"/><path d="M1065.5 858.31L1065.5 811.94Q1065.5 809.44 1068 809.44L1085.5 809.44"/><path d="M1065.5 828.45L1085.5 828.45"/><path d="M1086.5 930.99L1086.5 909.4Q1086.5 906.9 1089 906.9L1106.5 906.9"/><path d="M1068.7 945.49L1068.7 984.23"/><path d="M1106.5 945.49L1106.5 968.2Q1106.5 970.7 1109 970.7L1124.4 970.7"/><path d="M919.1 995.77L919.1 959.12Q919.1 956.62 921.6 956.62L964 956.62"/><path d="M901 1010.56L901 1090.74Q901 1093.24 903.5 1093.24L946.3 1093.24"/><path d="M939 1010.56L939 1074.26Q939 1076.76 941.5 1076.76L977.3 1076.76"/><path d="M977.3 1029.01L977.3 1142.15Q977.3 1144.65 974.8 1144.65L906 1144.65"/><path d="M990 978.87L1019 978.87Q1021.5 978.87 1021.5 981.37L1021.5 1031.97"/></g><path d="M78.4 570.6Q79.4 578 92.2 577.8T106 570.6Z" fill="url(#acb)"/><rect x="77.9" y="562.9" width="28.6" height="9.8" rx="4.2" fill="url(#ac)"/><ellipse cx="90.2" cy="574.8" rx="3.72" ry="1.5" fill="#fff" opacity=".95"/><rect x="298" y="540.5" width="6" height="10" fill="#3a4e69"/><rect x="275.2" y="530.2" width="75.2" height="12.1" rx="6.05" fill="#eef0f3" opacity=".55"/><rect x="276" y="531" width="73.6" height="10.5" rx="5.25" fill="url(#sh)"/><ellipse cx="295" cy="536.25" rx="1.5" ry="7.65" fill="#aeb9c6"/><ellipse cx="295.9" cy="536.25" rx="0.7" ry="6.85" fill="#44597a"/><ellipse cx="338" cy="536.25" rx="1.5" ry="7.65" fill="#aeb9c6"/><ellipse cx="338.9" cy="536.25" rx="0.7" ry="6.85" fill="#44597a"/><rect x="285.1" y="527.8" width="2.8" height="5.6" fill="#43587a"/><rect x="283.2" y="528" width="6.6" height="1" fill="#5d708c"/><rect x="303" y="527.8" width="2.8" height="5.6" fill="#43587a"/><rect x="301.1" y="528" width="6.6" height="1" fill="#5d708c"/><rect x="285.1" y="539.1" width="2.8" height="5.6" fill="#43587a"/><rect x="283.2" y="543.5" width="6.6" height="1" fill="#5d708c"/><rect x="323" y="539.1" width="2.8" height="5.6" fill="#43587a"/><rect x="321.1" y="543.5" width="6.6" height="1" fill="#5d708c"/><rect x="335.2" y="539.1" width="2.8" height="5.6" fill="#43587a"/><rect x="333.3" y="543.5" width="6.6" height="1" fill="#5d708c"/><rect x="303.4" y="564.7" width="45.1" height="16.7" rx="6" ry="6" fill="#b98876" opacity=".45"/><rect x="304.4" y="565.7" width="43.1" height="14.7" rx="5" ry="5" fill="url(#gh)"/><rect x="304.4" y="565.7" width="43.1" height="14.7" rx="5" ry="5" fill="url(#ghe)"/><rect x="223.5" y="610.3" width="56.7" height="20.1" rx="7.5" ry="7.5" fill="#b98876" opacity=".45"/><rect x="224.5" y="611.3" width="54.7" height="18.1" rx="6.5" ry="6.5" fill="url(#gh)"/><rect x="224.5" y="611.3" width="54.7" height="18.1" rx="6.5" ry="6.5" fill="url(#ghe)"/><path d="M197.4 654.1V643.5" stroke="#7a1214" stroke-width="2.6"/><path d="M194.2 643.7H200.6" stroke="#8c1a1c" stroke-width="1.6"/><ellipse cx="205" cy="656.1" rx="9.8" ry="8.23" fill="url(#pg)"/><path d="M193.8 665.53H216.2" stroke="#8a2f28" stroke-width="1.6"/><rect x="169.2" y="667.2" width="13.4" height="30.6" rx="4" ry="4" fill="url(#gv)"/><rect x="169.2" y="667.2" width="13.4" height="4.4" rx="4" ry="4" fill="#a06a57" opacity=".35"/><rect x="169.2" y="667.2" width="13.4" height="30.6" rx="4" ry="4" fill="url(#vlt)"/><ellipse cx="175.9" cy="695.2" rx="4.02" ry="3.4" fill="url(#glow)"/><rect x="453.1" y="563.6" width="26.1" height="126.2" rx="7" ry="7" fill="url(#gv)"/><rect x="453.1" y="563.6" width="26.1" height="7.7" rx="7" ry="7" fill="#a06a57" opacity=".35"/><rect x="453.1" y="563.6" width="26.1" height="126.2" rx="7" ry="7" fill="url(#vlt)"/><ellipse cx="466.15" cy="687.2" rx="7.83" ry="3.4" fill="url(#glow)"/><rect x="514.6" y="684.5" width="6" height="10" fill="#3a4e69"/><rect x="544" y="684.5" width="6" height="10" fill="#3a4e69"/><rect x="490.6" y="673.2" width="74.1" height="13.1" rx="6.55" fill="#eef0f3" opacity=".55"/><rect x="491.4" y="674" width="72.5" height="11.5" rx="5.75" fill="url(#sh)"/><ellipse cx="511.3" cy="679.75" rx="1.5" ry="8.15" fill="#aeb9c6"/><ellipse cx="512.2" cy="679.75" rx="0.7" ry="7.35" fill="#44597a"/><ellipse cx="554.4" cy="679.75" rx="1.5" ry="8.15" fill="#aeb9c6"/><ellipse cx="555.3" cy="679.75" rx="0.7" ry="7.35" fill="#44597a"/><rect x="500.5" y="670.8" width="2.8" height="5.6" fill="#43587a"/><rect x="498.6" y="671" width="6.6" height="1" fill="#5d708c"/><rect x="518.8" y="670.8" width="2.8" height="5.6" fill="#43587a"/><rect x="516.9" y="671" width="6.6" height="1" fill="#5d708c"/><rect x="499.8" y="683.1" width="2.8" height="5.6" fill="#43587a"/><rect x="497.9" y="687.5" width="6.6" height="1" fill="#5d708c"/><rect x="538.3" y="683.1" width="2.8" height="5.6" fill="#43587a"/><rect x="536.4" y="687.5" width="6.6" height="1" fill="#5d708c"/><rect x="428.8" y="737" width="6" height="10" fill="#3a4e69"/><rect x="459.1" y="737" width="6" height="10" fill="#3a4e69"/><rect x="405.6" y="724.6" width="74.2" height="14.2" rx="7.1" fill="#eef0f3" opacity=".55"/><rect x="406.4" y="725.4" width="72.6" height="12.6" rx="6.3" fill="url(#sh)"/><ellipse cx="425.2" cy="731.7" rx="1.5" ry="8.7" fill="#aeb9c6"/><ellipse cx="426.1" cy="731.7" rx="0.7" ry="7.9" fill="#44597a"/><ellipse cx="468.3" cy="731.7" rx="1.5" ry="8.7" fill="#aeb9c6"/><ellipse cx="469.2" cy="731.7" rx="0.7" ry="7.9" fill="#44597a"/><rect x="415.4" y="722.2" width="2.8" height="5.6" fill="#43587a"/><rect x="413.5" y="722.4" width="6.6" height="1" fill="#5d708c"/><rect x="433.7" y="722.2" width="2.8" height="5.6" fill="#43587a"/><rect x="431.8" y="722.4" width="6.6" height="1" fill="#5d708c"/><rect x="415.4" y="735.6" width="2.8" height="5.6" fill="#43587a"/><rect x="413.5" y="740" width="6.6" height="1" fill="#5d708c"/><rect x="452.5" y="735.6" width="2.8" height="5.6" fill="#43587a"/><rect x="450.6" y="740" width="6.6" height="1" fill="#5d708c"/><rect x="532.8" y="745.4" width="6" height="10" fill="#3a4e69"/><rect x="563.1" y="745.4" width="6" height="10" fill="#3a4e69"/><rect x="510" y="733.4" width="74.2" height="13.8" rx="6.9" fill="#eef0f3" opacity=".55"/><rect x="510.8" y="734.2" width="72.6" height="12.2" rx="6.1" fill="url(#sh)"/><ellipse cx="529.8" cy="740.3" rx="1.5" ry="8.5" fill="#aeb9c6"/><ellipse cx="530.7" cy="740.3" rx="0.7" ry="7.7" fill="#44597a"/><ellipse cx="573" cy="740.3" rx="1.5" ry="8.5" fill="#aeb9c6"/><ellipse cx="573.9" cy="740.3" rx="0.7" ry="7.7" fill="#44597a"/><rect x="519.6" y="731" width="2.8" height="5.6" fill="#43587a"/><rect x="517.7" y="731.2" width="6.6" height="1" fill="#5d708c"/><rect x="537.7" y="731" width="2.8" height="5.6" fill="#43587a"/><rect x="535.8" y="731.2" width="6.6" height="1" fill="#5d708c"/><rect x="519.6" y="744" width="2.8" height="5.6" fill="#43587a"/><rect x="517.7" y="748.4" width="6.6" height="1" fill="#5d708c"/><rect x="557.2" y="744" width="2.8" height="5.6" fill="#43587a"/><rect x="555.3" y="748.4" width="6.6" height="1" fill="#5d708c"/><rect x="649.3" y="572" width="26.4" height="159" rx="7" ry="7" fill="url(#gv)"/><rect x="649.3" y="572" width="26.4" height="7.7" rx="7" ry="7" fill="#a06a57" opacity=".35"/><rect x="649.3" y="572" width="26.4" height="159" rx="7" ry="7" fill="url(#vlt)"/><ellipse cx="662.5" cy="728.4" rx="7.92" ry="3.4" fill="url(#glow)"/><path d="M709.6 557.2Q710.6 564.6 723 564.4T736.4 557.2Z" fill="url(#acb)"/><rect x="709.1" y="549.5" width="27.8" height="9.8" rx="4.2" fill="url(#ac)"/><ellipse cx="721" cy="561.4" rx="3.61" ry="1.5" fill="#fff" opacity=".95"/><rect x="759.2" y="589.9" width="56.6" height="19.9" rx="7.5" ry="7.5" fill="#b98876" opacity=".45"/><rect x="760.2" y="590.9" width="54.6" height="17.9" rx="6.5" ry="6.5" fill="url(#gh)"/><rect x="760.2" y="590.9" width="54.6" height="17.9" rx="6.5" ry="6.5" fill="url(#ghe)"/><path d="M743.3 676.2V665.6" stroke="#7a1214" stroke-width="2.6"/><path d="M740.1 665.8H746.5" stroke="#8c1a1c" stroke-width="1.6"/><ellipse cx="750.9" cy="678.2" rx="9.8" ry="8.23" fill="url(#pg)"/><path d="M739.7 687.63H762.1" stroke="#8a2f28" stroke-width="1.6"/><path d="M634.4 751V740.4" stroke="#7a1214" stroke-width="2.6"/><path d="M631.2 740.6H637.6" stroke="#8c1a1c" stroke-width="1.6"/><ellipse cx="642" cy="753" rx="9.8" ry="8.23" fill="url(#pg)"/><path d="M630.8 762.43H653.2" stroke="#8a2f28" stroke-width="1.6"/><rect x="713.7" y="687.1" width="12.4" height="44.9" rx="2.5" fill="url(#sv)"/><rect x="808.9" y="648.8" width="6" height="10" fill="#3a4e69"/><rect x="838.7" y="648.8" width="6" height="10" fill="#3a4e69"/><rect x="794.7" y="637.9" width="74.1" height="12.7" rx="6.35" fill="#eef0f3" opacity=".55"/><rect x="795.5" y="638.7" width="72.5" height="11.1" rx="5.55" fill="url(#sh)"/><ellipse cx="807" cy="644.25" rx="1.5" ry="7.95" fill="#aeb9c6"/><ellipse cx="807.9" cy="644.25" rx="0.7" ry="7.15" fill="#44597a"/><ellipse cx="848" cy="644.25" rx="1.5" ry="7.95" fill="#aeb9c6"/><ellipse cx="848.9" cy="644.25" rx="0.7" ry="7.15" fill="#44597a"/><rect x="838.2" y="635.5" width="2.8" height="5.6" fill="#43587a"/><rect x="836.3" y="635.7" width="6.6" height="1" fill="#5d708c"/><rect x="856.7" y="635.5" width="2.8" height="5.6" fill="#43587a"/><rect x="854.8" y="635.7" width="6.6" height="1" fill="#5d708c"/><rect x="818.3" y="647.4" width="2.8" height="5.6" fill="#43587a"/><rect x="816.4" y="651.8" width="6.6" height="1" fill="#5d708c"/><rect x="856.7" y="647.4" width="2.8" height="5.6" fill="#43587a"/><rect x="854.8" y="651.8" width="6.6" height="1" fill="#5d708c"/><path d="M814.65 689.8Q815.65 697.2 827.5 697T840.35 689.8Z" fill="url(#acb)"/><rect x="814.15" y="682.1" width="26.7" height="9.8" rx="4.2" fill="url(#ac)"/><ellipse cx="825.5" cy="694" rx="3.47" ry="1.5" fill="#fff" opacity=".95"/><rect x="813.8" y="741.4" width="6" height="10" fill="#3a4e69"/><rect x="843.7" y="741.4" width="6" height="10" fill="#3a4e69"/><rect x="790.6" y="730.5" width="75" height="12.7" rx="6.35" fill="#eef0f3" opacity=".55"/><rect x="791.4" y="731.3" width="73.4" height="11.1" rx="5.55" fill="url(#sh)"/><ellipse cx="811.3" cy="736.85" rx="1.5" ry="7.95" fill="#aeb9c6"/><ellipse cx="812.2" cy="736.85" rx="0.7" ry="7.15" fill="#44597a"/><ellipse cx="853.3" cy="736.85" rx="1.5" ry="7.95" fill="#aeb9c6"/><ellipse cx="854.2" cy="736.85" rx="0.7" ry="7.15" fill="#44597a"/><rect x="800.4" y="728.1" width="2.8" height="5.6" fill="#43587a"/><rect x="798.5" y="728.3" width="6.6" height="1" fill="#5d708c"/><rect x="818.7" y="728.1" width="2.8" height="5.6" fill="#43587a"/><rect x="816.8" y="728.3" width="6.6" height="1" fill="#5d708c"/><rect x="800.4" y="740" width="2.8" height="5.6" fill="#43587a"/><rect x="798.5" y="744.4" width="6.6" height="1" fill="#5d708c"/><rect x="838.2" y="740" width="2.8" height="5.6" fill="#43587a"/><rect x="836.3" y="744.4" width="6.6" height="1" fill="#5d708c"/><rect x="963.6" y="572" width="26.8" height="159.4" rx="7" ry="7" fill="url(#gv)"/><rect x="963.6" y="572" width="26.8" height="7.7" rx="7" ry="7" fill="#a06a57" opacity=".35"/><rect x="963.6" y="572" width="26.8" height="159.4" rx="7" ry="7" fill="url(#vlt)"/><ellipse cx="977" cy="728.8" rx="8.04" ry="3.4" fill="url(#glow)"/><path d="M992.85 562.8Q993.85 570.2 1006.2 570T1019.55 562.8Z" fill="url(#acb)"/><rect x="992.35" y="555.1" width="27.7" height="9.8" rx="4.2" fill="url(#ac)"/><ellipse cx="1004.2" cy="567" rx="3.6" ry="1.5" fill="#fff" opacity=".95"/><rect x="1018.3" y="607.8" width="56.2" height="19.9" rx="7.5" ry="7.5" fill="#b98876" opacity=".45"/><rect x="1019.3" y="608.8" width="54.2" height="17.9" rx="6.5" ry="6.5" fill="url(#gh)"/><rect x="1019.3" y="608.8" width="54.2" height="17.9" rx="6.5" ry="6.5" fill="url(#ghe)"/><path d="M1004.9 662.5V651.9" stroke="#7a1214" stroke-width="2.6"/><path d="M1001.7 652.1H1008.1" stroke="#8c1a1c" stroke-width="1.6"/><ellipse cx="1012.5" cy="664.5" rx="9.8" ry="8.23" fill="url(#pg)"/><path d="M1001.3 673.93H1023.7" stroke="#8a2f28" stroke-width="1.6"/><rect x="1080.4" y="670.9" width="6" height="10" fill="#3a4e69"/><rect x="1110.9" y="670.9" width="6" height="10" fill="#3a4e69"/><rect x="1057.3" y="659.5" width="74.2" height="13.2" rx="6.6" fill="#eef0f3" opacity=".55"/><rect x="1058.1" y="660.3" width="72.6" height="11.6" rx="5.8" fill="url(#sh)"/><ellipse cx="1077.1" cy="666.1" rx="1.5" ry="8.2" fill="#aeb9c6"/><ellipse cx="1078" cy="666.1" rx="0.7" ry="7.4" fill="#44597a"/><ellipse cx="1121.2" cy="666.1" rx="1.5" ry="8.2" fill="#aeb9c6"/><ellipse cx="1122.1" cy="666.1" rx="0.7" ry="7.4" fill="#44597a"/><rect x="1067.3" y="657.1" width="2.8" height="5.6" fill="#43587a"/><rect x="1065.4" y="657.3" width="6.6" height="1" fill="#5d708c"/><rect x="1085.1" y="657.1" width="2.8" height="5.6" fill="#43587a"/><rect x="1083.2" y="657.3" width="6.6" height="1" fill="#5d708c"/><rect x="1067.3" y="669.5" width="2.8" height="5.6" fill="#43587a"/><rect x="1065.4" y="673.9" width="6.6" height="1" fill="#5d708c"/><rect x="1105.1" y="669.5" width="2.8" height="5.6" fill="#43587a"/><rect x="1103.2" y="673.9" width="6.6" height="1" fill="#5d708c"/><rect x="912.4" y="717.1" width="6" height="10" fill="#3a4e69"/><rect x="943.3" y="717.1" width="6" height="10" fill="#3a4e69"/><rect x="889.6" y="705.3" width="76.3" height="13.6" rx="6.8" fill="#eef0f3" opacity=".55"/><rect x="890.4" y="706.1" width="74.7" height="12" rx="6" fill="url(#sh)"/><ellipse cx="909.4" cy="712.1" rx="1.5" ry="8.4" fill="#aeb9c6"/><ellipse cx="910.3" cy="712.1" rx="0.7" ry="7.6" fill="#44597a"/><ellipse cx="953" cy="712.1" rx="1.5" ry="8.4" fill="#aeb9c6"/><ellipse cx="953.9" cy="712.1" rx="0.7" ry="7.6" fill="#44597a"/><rect x="899.6" y="702.9" width="2.8" height="5.6" fill="#43587a"/><rect x="897.7" y="703.1" width="6.6" height="1" fill="#5d708c"/><rect x="917.7" y="702.9" width="2.8" height="5.6" fill="#43587a"/><rect x="915.8" y="703.1" width="6.6" height="1" fill="#5d708c"/><rect x="899.6" y="715.7" width="2.8" height="5.6" fill="#43587a"/><rect x="897.7" y="720.1" width="6.6" height="1" fill="#5d708c"/><rect x="937.6" y="715.7" width="2.8" height="5.6" fill="#43587a"/><rect x="935.7" y="720.1" width="6.6" height="1" fill="#5d708c"/><path d="M888.9 810.1V799.5" stroke="#7a1214" stroke-width="2.6"/><path d="M885.7 799.7H892.1" stroke="#8c1a1c" stroke-width="1.6"/><ellipse cx="896.5" cy="812.1" rx="9.8" ry="8.23" fill="url(#pg)"/><path d="M885.3 821.53H907.7" stroke="#8a2f28" stroke-width="1.6"/><g fill="none" stroke="#e4e234" stroke-width="0.95"><path d="M224.5 523.05L203.5 523.05" stroke-dasharray="3.4 4.4"/><path d="M207.33 519.09L203.5 522.6L207.33 526.11"/><path d="M204 551.05L224.5 551.05" stroke-dasharray="3.4 4.4"/><path d="M220.67 554.11L224.5 550.6L220.67 547.09"/><path d="M262.7 592L262.7 609" stroke-dasharray="3.4 4.4"/><path d="M259.89 605.17L263.4 609L266.91 605.17"/><path d="M145.7 649.15L118.8 649.15" stroke-dasharray="3.4 4.4"/><path d="M122.63 645.19L118.8 648.7L122.63 652.21"/><path d="M73 674.85L101.1 674.85" stroke-dasharray="3.4 4.4"/><path d="M97.27 677.91L101.1 674.4L97.27 670.89"/><path d="M205 715.15L232 715.15" stroke-dasharray="3.4 4.4"/><path d="M228.17 718.21L232 714.7L228.17 711.19"/><path d="M251.4 732.85L224.9 732.85" stroke-dasharray="3.4 4.4"/><path d="M228.73 728.89L224.9 732.4L228.73 735.91"/><path d="M279 747.95L254.7 747.95" stroke-dasharray="3.4 4.4"/><path d="M258.53 743.99L254.7 747.5L258.53 751.01"/><path d="M73 825.85L93.2 825.85" stroke-dasharray="3.4 4.4"/><path d="M89.37 828.91L93.2 825.4L89.37 821.89"/><path d="M73 837.25L93.2 837.25" stroke-dasharray="3.4 4.4"/><path d="M89.37 840.31L93.2 836.8L89.37 833.29"/><path d="M176 837.25L190.6 837.25" stroke-dasharray="3.4 4.4"/><path d="M186.77 840.31L190.6 836.8L186.77 833.29"/><path d="M400 538.45L377.4 538.45" stroke-dasharray="3.4 4.4"/><path d="M381.23 534.49L377.4 538L381.23 541.51"/><path d="M377 552.25L399 552.25" stroke-dasharray="3.4 4.4"/><path d="M395.17 555.31L399 551.8L395.17 548.29"/><path d="M415.3 586.75L444 586.75" stroke-dasharray="3.4 4.4"/><path d="M440.17 589.81L444 586.3L440.17 582.79"/><path d="M421.7 613L421.7 588.8" stroke-dasharray="3.4 4.4"/><path d="M425.91 592.63L422.4 588.8L418.89 592.63"/><path d="M543 656.95L522.5 656.95" stroke-dasharray="3.4 4.4"/><path d="M526.33 652.99L522.5 656.5L526.33 660.01"/><path d="M545 696.45L562 696.45" stroke-dasharray="3.4 4.4"/><path d="M558.17 699.51L562 696L558.17 692.49"/><path d="M472 692L472 712.7" stroke-dasharray="3.4 4.4"/><path d="M469.19 708.87L472.7 712.7L476.21 708.87"/><path d="M414 713.65L405 713.65" stroke-dasharray="3.4 4.4"/><path d="M408.83 709.69L405 713.2L408.83 716.71"/><path d="M406 755.25L414.5 755.25" stroke-dasharray="3.4 4.4"/><path d="M410.67 758.31L414.5 754.8L410.67 751.29"/><path d="M453.2 757.4L453.2 775.2" stroke-dasharray="3.4 4.4"/><path d="M450.39 771.37L453.9 775.2L457.41 771.37"/><path d="M547 712.05L534.7 712.05" stroke-dasharray="3.4 4.4"/><path d="M538.53 708.09L534.7 711.6L538.53 715.11"/><path d="M520.3 767.4L520.3 791.7" stroke-dasharray="3.4 4.4"/><path d="M517.49 787.87L521 791.7L524.51 787.87"/><path d="M617 616.65L643 616.65" stroke-dasharray="3.4 4.4"/><path d="M639.17 619.71L643 616.2L639.17 612.69"/><path d="M644 779.25L666 779.25" stroke-dasharray="3.4 4.4"/><path d="M662.17 782.31L666 778.8L662.17 775.29"/><path d="M676.7 554.55L698.4 554.55" stroke-dasharray="3.4 4.4"/><path d="M694.57 557.61L698.4 554.1L694.57 550.59"/><path d="M743.9 636L743.9 610.9" stroke-dasharray="3.4 4.4"/><path d="M748.11 614.73L744.6 610.9L741.09 614.73"/><path d="M829 554.55L806 554.55" stroke-dasharray="3.4 4.4"/><path d="M809.83 550.59L806 554.1L809.83 557.61"/><path d="M808 567.65L829.5 567.65" stroke-dasharray="3.4 4.4"/><path d="M825.67 570.71L829.5 567.2L825.67 563.69"/><path d="M757 694.85L728.7 694.85" stroke-dasharray="3.4 4.4"/><path d="M732.53 690.89L728.7 694.4L732.53 697.91"/><path d="M735 720.95L756 720.95" stroke-dasharray="3.4 4.4"/><path d="M752.17 724.01L756 720.5L752.17 716.99"/><path d="M795 722.05L771.5 722.05" stroke-dasharray="3.4 4.4"/><path d="M775.33 718.09L771.5 721.6L775.33 725.11"/><path d="M772 755.25L794.2 755.25" stroke-dasharray="3.4 4.4"/><path d="M790.37 758.31L794.2 754.8L790.37 751.29"/><path d="M815 772.25L794 772.25" stroke-dasharray="3.4 4.4"/><path d="M797.83 768.29L794 771.8L797.83 775.31"/><path d="M815 792.15L794 792.15" stroke-dasharray="3.4 4.4"/><path d="M797.83 788.19L794 791.7L797.83 795.21"/><path d="M815 817.15L794 817.15" stroke-dasharray="3.4 4.4"/><path d="M797.83 813.19L794 816.7L797.83 820.21"/><path d="M880.9 655L880.9 633" stroke-dasharray="3.4 4.4"/><path d="M885.11 636.83L881.6 633L878.09 636.83"/><path d="M869.7 800L869.7 780" stroke-dasharray="3.4 4.4"/><path d="M938.3 601.65L960.4 601.65" stroke-dasharray="3.4 4.4"/><path d="M956.57 604.71L960.4 601.2L956.57 597.69"/><path d="M938 679.65L958.3 679.65" stroke-dasharray="3.4 4.4"/><path d="M954.47 682.71L958.3 679.2L954.47 675.69"/><path d="M1031.2 566.8L1031.2 591" stroke-dasharray="3.4 4.4"/><path d="M1028.39 587.17L1031.9 591L1035.41 587.17"/><path d="M1005.5 627.7L1005.5 608.8" stroke-dasharray="3.4 4.4"/><path d="M1009.71 612.63L1006.2 608.8L1002.69 612.63"/><path d="M1084 575.15L1067.5 575.15" stroke-dasharray="3.4 4.4"/><path d="M1071.33 571.19L1067.5 574.7L1071.33 578.21"/><path d="M1068 588.65L1084.4 588.65" stroke-dasharray="3.4 4.4"/><path d="M1080.57 591.71L1084.4 588.2L1080.57 584.69"/><path d="M1090 644.35L1104.5 644.35" stroke-dasharray="3.4 4.4"/><path d="M1100.67 647.41L1104.5 643.9L1100.67 640.39"/><path d="M1123 689.65L1108 689.65" stroke-dasharray="3.4 4.4"/><path d="M1111.83 685.69L1108 689.2L1111.83 692.71"/><path d="M1068 675L1068 697.4" stroke-dasharray="3.4 4.4"/><path d="M1065.19 693.57L1068.7 697.4L1072.21 693.57"/><path d="M976.6 734L976.6 763" stroke-dasharray="3.4 4.4"/><path d="M973.79 759.17L977.3 763L980.81 759.17"/><path d="M946 776.65L923.5 776.65" stroke-dasharray="3.4 4.4"/><path d="M927.33 772.69L923.5 776.2L927.33 779.71"/><path d="M1020.8 722L1020.8 704.8" stroke-dasharray="3.4 4.4"/><path d="M1025.01 708.63L1021.5 704.8L1017.99 708.63"/></g><text x="92.4" y="571.6" font-size="9.8" fill="#f4f1ee" text-anchor="middle"  textLength="21.5" lengthAdjust="spacingAndGlyphs">A662</text><text x="314.9" y="539.6" font-size="8.9" fill="#e9edf1" text-anchor="middle"  textLength="20.6" lengthAdjust="spacingAndGlyphs">E674</text><text x="325.4" y="576.6" font-size="9.8" fill="#f4f1ee" text-anchor="middle"  textLength="25" lengthAdjust="spacingAndGlyphs">V672</text><text x="251.8" y="624.4" font-size="10.4" fill="#f4f1ee" text-anchor="middle"  textLength="26" lengthAdjust="spacingAndGlyphs">V664</text><text x="204.5" y="677" font-size="9.6" fill="#222" text-anchor="middle"  textLength="24" lengthAdjust="spacingAndGlyphs">P665</text><text x="146.1" y="684.2" font-size="9.8" fill="#222"  textLength="22" lengthAdjust="spacingAndGlyphs">V663</text><text x="465.7" y="638.2" font-size="11" fill="#f4f1ee" text-anchor="middle"  textLength="27" lengthAdjust="spacingAndGlyphs">T664</text><text x="531.3" y="682.5" font-size="8.9" fill="#e9edf1" text-anchor="middle"  textLength="20.6" lengthAdjust="spacingAndGlyphs">E663</text><text x="445.1" y="734.6" font-size="8.9" fill="#e9edf1" text-anchor="middle"  textLength="20.6" lengthAdjust="spacingAndGlyphs">E677</text><text x="550.2" y="743.5" font-size="8.9" fill="#e9edf1" text-anchor="middle"  textLength="20.6" lengthAdjust="spacingAndGlyphs">E665</text><text x="662.6" y="643.1" font-size="11" fill="#f4f1ee" text-anchor="middle"  textLength="27" lengthAdjust="spacingAndGlyphs">T662</text><text x="723" y="558.2" font-size="9.6" fill="#f4f1ee" text-anchor="middle"  textLength="21.5" lengthAdjust="spacingAndGlyphs">A663</text><text x="787.1" y="604.2" font-size="11" fill="#f4f1ee" text-anchor="middle"  textLength="28" lengthAdjust="spacingAndGlyphs">V667</text><text x="763.5" y="686.8" font-size="9.6" fill="#222"  textLength="22" lengthAdjust="spacingAndGlyphs">P668</text><text x="641.6" y="773" font-size="9.6" fill="#222" text-anchor="middle"  textLength="22" lengthAdjust="spacingAndGlyphs">P667</text><text x="690.7" y="712.2" font-size="9.6" fill="#222"  textLength="21" lengthAdjust="spacingAndGlyphs">E666</text><text x="827.5" y="647.2" font-size="8.9" fill="#e9edf1" text-anchor="middle"  textLength="20.6" lengthAdjust="spacingAndGlyphs">E667</text><text x="827.5" y="690.8" font-size="9.6" fill="#f4f1ee" text-anchor="middle"  textLength="21.5" lengthAdjust="spacingAndGlyphs">A665</text><text x="831.9" y="739.7" font-size="8.9" fill="#e9edf1" text-anchor="middle"  textLength="20.6" lengthAdjust="spacingAndGlyphs">E672</text><text x="977.2" y="644.1" font-size="11" fill="#f4f1ee" text-anchor="middle"  textLength="27" lengthAdjust="spacingAndGlyphs">T663</text><text x="1006.2" y="563.7" font-size="9.6" fill="#f4f1ee" text-anchor="middle"  textLength="21.5" lengthAdjust="spacingAndGlyphs">A664</text><text x="1046.6" y="621" font-size="11" fill="#f4f1ee" text-anchor="middle"  textLength="28" lengthAdjust="spacingAndGlyphs">V668</text><text x="1012.9" y="685.4" font-size="9.6" fill="#222" text-anchor="middle"  textLength="22" lengthAdjust="spacingAndGlyphs">P670</text><text x="1098.7" y="669.3" font-size="8.9" fill="#e9edf1" text-anchor="middle"  textLength="20.6" lengthAdjust="spacingAndGlyphs">E676</text><text x="930.2" y="714.7" font-size="8.9" fill="#e9edf1" text-anchor="middle"  textLength="20.6" lengthAdjust="spacingAndGlyphs">E668</text><text x="896.5" y="833.4" font-size="9.6" fill="#222" text-anchor="middle"  textLength="22" lengthAdjust="spacingAndGlyphs">P669</text><text x="172" y="527.6" font-size="9.2" fill="#222">冷却水</text><text x="172" y="553.3" font-size="9.2" fill="#222">冷却水</text><text x="255.8" y="717.6" font-size="9.2" fill="#222">异构化进料泵</text><text x="255.8" y="735.7" font-size="9.2" fill="#222">异构化进料泵</text><text x="283.5" y="751.4" font-size="9.2" fill="#222">自</text><text x="292.8" y="751.2" font-size="9.4" fill="#222" class="s" >T661</text><text x="66.5" y="714.3" font-size="9.2" fill="#222">自</text><text x="75.8" y="714.1" font-size="9.4" fill="#222" class="s" >T461</text><text x="71" y="785" font-size="9.4" fill="#222" class="s" >V462</text><text x="99.4" y="828.7" font-size="9.6" fill="#222" class="s" >E665</text><text x="99.4" y="840.1" font-size="9.6" fill="#222" class="s" >E668</text><text x="403" y="540" font-size="8.6" fill="#222" class="s" >N</text><text x="409.4" y="542" font-size="6" fill="#222" class="s" >2</text><text x="413.6" y="540.2" font-size="9.2" fill="#222">总管</text><text x="403" y="554.3" font-size="9.2" fill="#222">排空管路</text><text x="382" y="590.4" font-size="9.2" fill="#222">自</text><text x="391.3" y="590.2" font-size="9.4" fill="#222" class="s" >P664</text><text x="547.1" y="659.7" font-size="9.4" fill="#222" class="s" >E669</text><text x="567.5" y="695.1" font-size="8.9" fill="#222">至二甲苯</text><text x="571.9" y="706.2" font-size="8.9" fill="#222">塔底泵</text><text x="373.2" y="717.1" font-size="9.2" fill="#222">冷却水</text><text x="425.2" y="787.7" font-size="9.1" fill="#222">至废解吸剂罐</text><text x="584.9" y="585.2" font-size="7.4" fill="#2a2a2a">压力：</text><text x="608" y="584.9" font-size="7.4" fill="#2a2a2a" class="s"  textLength="36" lengthAdjust="spacingAndGlyphs">15~55KPa</text><text x="584.9" y="593.6" font-size="7.4" fill="#2a2a2a">温度：</text><text x="608" y="593.3" font-size="7.4" fill="#2a2a2a" class="s"  textLength="37.8" lengthAdjust="spacingAndGlyphs">195~215°C</text><text x="899.9" y="586.3" font-size="7.4" fill="#2a2a2a">压力：</text><text x="923" y="586" font-size="7.4" fill="#2a2a2a" class="s"  textLength="36.3" lengthAdjust="spacingAndGlyphs">10~40KPa</text><text x="899.9" y="594.7" font-size="7.4" fill="#2a2a2a">温度：</text><text x="923" y="594.4" font-size="7.4" fill="#2a2a2a" class="s"  textLength="37.8" lengthAdjust="spacingAndGlyphs">110~130°C</text><text x="835" y="557.6" font-size="8.6" fill="#222" class="s" >N</text><text x="841.4" y="559.6" font-size="6" fill="#222" class="s" >2</text><text x="845.6" y="557.8" font-size="9.2" fill="#222">总管</text><text x="835" y="571.3" font-size="9.2" fill="#222">排空管道</text><text x="760.4" y="697.7" font-size="9.2" fill="#222">自</text><text x="769.7" y="697.5" font-size="9.4" fill="#222" class="s" >T461</text><text x="738.3" y="732.4" font-size="9.2" fill="#222">冷却水</text><text x="738.9" y="758.5" font-size="9.2" fill="#222">冷却水</text><text x="769.2" y="717.6" font-size="9.2" fill="#222">至</text><text x="778.5" y="717.4" font-size="9.4" fill="#222" class="s" >V462</text><text x="758.2" y="775.1" font-size="9.2" fill="#222">去</text><text x="767.5" y="774.9" font-size="9.4" fill="#222" class="s" >T661</text><text x="695.6" y="796.6" font-size="9.14" fill="#222">至对二甲苯产品检查罐</text><text x="720.6" y="820.5" font-size="9.14" fill="#222">不合格产品储罐</text><text x="1086.5" y="578" font-size="8.6" fill="#222" class="s" >N</text><text x="1092.9" y="580" font-size="6" fill="#222" class="s" >2</text><text x="1097.1" y="578.2" font-size="9.2" fill="#222">总管</text><text x="1086.5" y="591.5" font-size="9.2" fill="#222">排空管道</text><text x="1109.6" y="647.2" font-size="9.2" fill="#222">冷却水</text><text x="1126.3" y="692.5" font-size="9.2" fill="#222">冷却水</text><text x="1034.8" y="711" font-size="9.18" fill="#222">至老芳烃歧化缓冲罐</text><text x="1003.8" y="743" font-size="9.24" fill="#222">蒸汽总管</text><text x="949.6" y="779.6" font-size="9.4" fill="#222" class="s" >M622</text><text x="98.3" y="854.4" font-size="7.8" fill="#3a3a3a" text-anchor="middle" class="s" >V663</text><path d="M81 857H117.6" stroke="#3a3a3a" stroke-width=".8"/><text x="98.3" y="868.2" font-size="7.8" fill="#161616" text-anchor="middle">侧线缓冲罐</text><text x="137.5" y="854.4" font-size="7.8" fill="#3a3a3a" text-anchor="middle" class="s" >P665</text><path d="M125.3 857H155.8" stroke="#3a3a3a" stroke-width=".8"/><text x="137.5" y="868.2" font-size="7.8" fill="#161616" text-anchor="middle">回流泵</text><text x="182.2" y="854.4" font-size="7.8" fill="#3a3a3a" text-anchor="middle" class="s" >V664</text><path d="M162.5 857H201" stroke="#3a3a3a" stroke-width=".8"/><text x="182.2" y="868.2" font-size="7.8" fill="#161616" text-anchor="middle">回流罐</text><text x="224.9" y="854.4" font-size="7.8" fill="#3a3a3a" text-anchor="middle" class="s" >V672</text><path d="M206 857H242.6" stroke="#3a3a3a" stroke-width=".8"/><text x="224.9" y="868.2" font-size="7.8" fill="#161616" text-anchor="middle">放空罐</text><text x="274.6" y="854.4" font-size="7.8" fill="#3a3a3a" text-anchor="middle" class="s" >E674</text><path d="M249.2 857H296.8" stroke="#3a3a3a" stroke-width=".8"/><text x="274.6" y="868.2" font-size="7.8" fill="#161616" text-anchor="middle">放空冷凝器</text><text x="326.2" y="854.4" font-size="7.8" fill="#3a3a3a" text-anchor="middle" class="s" >E667</text><path d="M301.2 857H351.4" stroke="#3a3a3a" stroke-width=".8"/><text x="326.2" y="868.2" font-size="7.8" fill="#161616" text-anchor="middle">塔底水冷器</text><text x="383.1" y="854.4" font-size="7.8" fill="#3a3a3a" text-anchor="middle" class="s" >T664</text><path d="M357.7 857H409.7" stroke="#3a3a3a" stroke-width=".8"/><text x="383.1" y="868.2" font-size="7.8" fill="#161616" text-anchor="middle">解吸剂再蒸馏塔</text><text x="431.2" y="854.4" font-size="7.8" fill="#3a3a3a" text-anchor="middle" class="s" >E663</text><path d="M414.1 857H448.4" stroke="#3a3a3a" stroke-width=".8"/><text x="431.2" y="868.2" font-size="7.8" fill="#161616" text-anchor="middle">再沸器</text><text x="469.4" y="854.4" font-size="7.8" fill="#3a3a3a" text-anchor="middle" class="s" >P667</text><path d="M451.7 857H486.5" stroke="#3a3a3a" stroke-width=".8"/><text x="469.4" y="868.2" font-size="7.8" fill="#161616" text-anchor="middle">塔底泵</text><text x="507.5" y="854.4" font-size="7.8" fill="#3a3a3a" text-anchor="middle" class="s" >T662</text><path d="M493.1 857H522.5" stroke="#3a3a3a" stroke-width=".8"/><text x="507.5" y="868.2" font-size="7.8" fill="#161616" text-anchor="middle">抽出液塔</text><text x="548" y="854.4" font-size="7.8" fill="#3a3a3a" text-anchor="middle" class="s" >E666</text><path d="M527.6 857H565.7" stroke="#3a3a3a" stroke-width=".8"/><text x="548" y="868.2" font-size="7.8" fill="#161616" text-anchor="middle">重沸器</text><text x="591.1" y="854.4" font-size="7.8" fill="#3a3a3a" text-anchor="middle" class="s" >E665</text><path d="M570.1 857H617.7" stroke="#3a3a3a" stroke-width=".8"/><text x="591.1" y="868.2" font-size="7.8" fill="#161616" text-anchor="middle">塔底换热器</text><text x="636.5" y="854.4" font-size="7.8" fill="#3a3a3a" text-anchor="middle" class="s" >A663</text><path d="M622.1 857H650.4" stroke="#3a3a3a" stroke-width=".8"/><text x="636.5" y="868.2" font-size="7.8" fill="#161616" text-anchor="middle">空冷器</text><text x="677.9" y="854.4" font-size="7.8" fill="#3a3a3a" text-anchor="middle" class="s" >P668</text><path d="M659.7 857H696.2" stroke="#3a3a3a" stroke-width=".8"/><text x="677.9" y="868.2" font-size="7.8" fill="#161616" text-anchor="middle">回流泵</text><text x="720.6" y="854.4" font-size="7.8" fill="#3a3a3a" text-anchor="middle" class="s" >V667</text><path d="M701.1 857H740.5" stroke="#3a3a3a" stroke-width=".8"/><text x="720.6" y="868.2" font-size="7.8" fill="#161616" text-anchor="middle">回流罐</text><text x="760.8" y="854.4" font-size="7.8" fill="#3a3a3a" text-anchor="middle" class="s" >E667</text><path d="M744.9 857H778.8" stroke="#3a3a3a" stroke-width=".8"/><text x="760.8" y="868.2" font-size="7.8" fill="#161616" text-anchor="middle">换热器</text><text x="804" y="854.4" font-size="7.8" fill="#3a3a3a" text-anchor="middle" class="s" >E672</text><path d="M785.4 857H825.7" stroke="#3a3a3a" stroke-width=".8"/><text x="804" y="868.2" font-size="7.8" fill="#161616" text-anchor="middle">PX水冷器</text><text x="852.9" y="854.4" font-size="7.8" fill="#3a3a3a" text-anchor="middle" class="s" >A665</text><path d="M831.2 857H875.4" stroke="#3a3a3a" stroke-width=".8"/><text x="852.9" y="868.2" font-size="7.8" fill="#161616" text-anchor="middle">空冷器</text><text x="897" y="854.4" font-size="7.8" fill="#3a3a3a" text-anchor="middle" class="s" >P669</text><path d="M880 857H914.2" stroke="#3a3a3a" stroke-width=".8"/><text x="897" y="868.2" font-size="7.8" fill="#161616" text-anchor="middle">塔底泵</text><text x="936.4" y="854.4" font-size="7.8" fill="#3a3a3a" text-anchor="middle" class="s" >E668</text><path d="M919.1 857H953.6" stroke="#3a3a3a" stroke-width=".8"/><text x="936.4" y="868.2" font-size="7.8" fill="#161616" text-anchor="middle">再沸器</text><text x="978.8" y="854.4" font-size="7.8" fill="#3a3a3a" text-anchor="middle" class="s" >A664</text><path d="M957.4 857H996.1" stroke="#3a3a3a" stroke-width=".8"/><text x="978.8" y="868.2" font-size="7.8" fill="#161616" text-anchor="middle">PX空冷器</text><text x="1016" y="854.4" font-size="7.8" fill="#3a3a3a" text-anchor="middle" class="s" >T663</text><path d="M998.8 857H1036.4" stroke="#3a3a3a" stroke-width=".8"/><text x="1016" y="868.2" font-size="7.8" fill="#161616" text-anchor="middle">PX成品塔</text><text x="1058.7" y="854.4" font-size="7.8" fill="#3a3a3a" text-anchor="middle" class="s" >P670</text><path d="M1040.4 857H1076.2" stroke="#3a3a3a" stroke-width=".8"/><text x="1058.7" y="868.2" font-size="7.8" fill="#161616" text-anchor="middle">塔顶泵</text><text x="1101.2" y="854.4" font-size="7.8" fill="#3a3a3a" text-anchor="middle" class="s" >V668</text><path d="M1080.6 857H1117.3" stroke="#3a3a3a" stroke-width=".8"/><text x="1101.2" y="868.2" font-size="7.8" fill="#161616" text-anchor="middle">回流罐</text><text x="1142.6" y="854.4" font-size="7.8" fill="#3a3a3a" text-anchor="middle" class="s" >E676</text><path d="M1126.2 857H1165.4" stroke="#3a3a3a" stroke-width=".8"/><text x="1142.6" y="868.2" font-size="7.8" fill="#161616" text-anchor="middle">塔顶水冷器</text><path d="M73 857H77" stroke="#555" stroke-width=".7"/></g>
<rect x="1155.4" y="179.5" width="387.5" height="265.9" fill="none" stroke="#f8cdd1" stroke-width="1" stroke-dasharray="5.2 2.2"/><path d="M1189 296.5V308.1H1159.4V193.4H1351.6V209" fill="none" stroke="#3a3a3a" stroke-width="0.9" /><path d="M1351.6 213.4L1349.7 208.2L1353.5 208.2Z" fill="#3a3a3a"/><path d="M1351.5 300.5V312.3H1382.5V200.7H1189V204.5" fill="none" stroke="#3a3a3a" stroke-width="0.9" /><path d="M1189 208.9L1187.1 203.7L1190.9 203.7Z" fill="#3a3a3a"/><path d="M1176.4 217.7A12.25 9 0 0 1 1200.9 217.7V287.5A12.25 9 0 0 1 1176.4 287.5Z" fill="#fdfdfe" stroke="#3a3a3a" stroke-width="0.9"/><path d="M1339.2 222.2A12.3 9 0 0 1 1363.8 222.2V291.5A12.3 9 0 0 1 1339.2 291.5Z" fill="#fdfdfe" stroke="#3a3a3a" stroke-width="0.9"/><g font-size="10.6" font-weight="bold" fill="#b5272d" text-anchor="middle"><text x="1188.7" y="237.32">吸</text><text x="1188.7" y="249.02">收</text><text x="1188.7" y="260.82">塔</text><text x="1188.7" y="272.82">A</text><text x="1351.6" y="241.72">吸</text><text x="1351.6" y="253.52">收</text><text x="1351.6" y="265.62">塔</text><text x="1351.6" y="277.42">B</text></g><path d="M1247.6 261V224H1205" fill="none" stroke="#3a3a3a" stroke-width="0.9" /><path d="M1201.2 224L1206.4 222.1L1206.4 225.9Z" fill="#3a3a3a"/><path d="M1285.4 224V316.9H1292 M1285.4 224H1334.5" fill="none" stroke="#3a3a3a" stroke-width="0.9" /><path d="M1338.9 224L1333.7 225.9L1333.7 222.1Z" fill="#3a3a3a"/><rect x="1225.3" y="261" width="95.2" height="17" rx="1.5" fill="#fdfdfe" stroke="#3a3a3a" stroke-width="0.9"/><text x="1273" y="273.9" font-size="10.5" font-weight="bold" fill="#b5272d" text-anchor="middle">旋转阀</text><path d="M1209 237.2H1238.4V255" fill="none" stroke="#1f55a5" stroke-width="1.0" /><path d="M1203.6 237.2L1208.2 235.4L1208.2 239Z" fill="#fff" stroke="#1f55a5" stroke-width="0.9"/><path d="M1238.4 259.8L1236.6 255.2L1240.2 255.2Z" fill="#fff" stroke="#1f55a5" stroke-width="0.9"/><rect x="1213.1" y="233.79" width="21" height="7.26" fill="#fdfdfe"/><text x="1223.6" y="239.6" font-size="6.6" fill="#222" text-anchor="middle">冲洗液</text><path d="M1332 237.5H1298.5V255" fill="none" stroke="#1f55a5" stroke-width="1.0" /><path d="M1337.4 237.5L1332.8 239.3L1332.8 235.7Z" fill="#fff" stroke="#1f55a5" stroke-width="0.9"/><path d="M1298.5 259.8L1296.7 255.2L1300.3 255.2Z" fill="#fff" stroke="#1f55a5" stroke-width="0.9"/><rect x="1301.7" y="234.09" width="21" height="7.26" fill="#fdfdfe"/><text x="1312.2" y="239.9" font-size="6.6" fill="#222" text-anchor="middle">冲洗液</text><rect x="1084.2" y="310.4" width="52.6" height="27" rx="2" fill="none" stroke="#4aa54f" stroke-width="1" stroke-dasharray="3.2 1.8"/><rect x="1081.9" y="351.1" width="56.9" height="19.2" rx="2" fill="none" stroke="#4aa54f" stroke-width="1" stroke-dasharray="3.2 1.8"/><g font-size="10.7" font-weight="bold" fill="#161616" text-anchor="middle"><text x="1110.6" y="322.2">二甲苯精</text><text x="1110.6" y="334.1">馏单元</text><text x="1110.6" y="364.8">歧化单元</text></g><path d="M1136.8 323.7H1153.6V360.2H1138.8 M1153.6 344.2H1166" fill="none" stroke="#3a3a3a" stroke-width="0.9" /><path d="M1170.4 344.2L1165.2 346.1L1165.2 342.3Z" fill="#3a3a3a"/><path d="M1170.4 364.4V329.2Q1189 318.6 1207.8 329.2V364.4Z" fill="#fdfdfe" stroke="#3a3a3a" stroke-width="0.9"/><text x="1189" y="343.1" font-size="10.6" font-weight="bold" fill="#b5272d" text-anchor="middle">原料</text><text x="1189" y="354.2" font-size="10.6" font-weight="bold" fill="#b5272d" text-anchor="middle">储罐</text><path d="M1207.8 344.2H1237V282" fill="none" stroke="#3a3a3a" stroke-width="0.9" /><path d="M1237 278.3L1238.9 283.5L1235.1 283.5Z" fill="#3a3a3a"/><rect x="1229.9" y="321.48" width="14.2" height="7.15" fill="#fdfdfe"/><text x="1237" y="327.2" font-size="6.5" font-weight="bold" fill="#4aa54f" text-anchor="middle">原料</text><path d="M1249.7 278V398.2H1278" fill="none" stroke="#3a3a3a" stroke-width="0.9" /><path d="M1282.2 398.2L1277 400.1L1277 396.3Z" fill="#3a3a3a"/><text x="1254" y="372.2" font-size="6.5" font-weight="bold" fill="#4aa54f" text-anchor="middle">抽余液</text><text x="1256" y="380.4" font-size="6" font-weight="bold" fill="#4aa54f" text-anchor="middle">(C8+解吸剂)</text><path d="M1263 282V352.6H1355.5 M1263 341H1562.4V333" fill="none" stroke="#4aa54f" stroke-width="1.0" /><path d="M1263 278.2L1264.9 283.4L1261.1 283.4Z" fill="#4aa54f"/><path d="M1562.4 329.2L1564.3 334.4L1560.5 334.4Z" fill="#4aa54f"/><rect x="1337.55" y="349.08" width="7.7" height="7.15" fill="#fdfdfe"/><text x="1341.4" y="354.8" font-size="6.5" font-weight="bold" fill="#4aa54f" text-anchor="middle">水</text><path d="M1292 316.9H1298 M1339.2 316.9H1404" fill="none" stroke="#3a3a3a" stroke-width="0.9" /><rect x="1304.15" y="309.58" width="20.7" height="7.15" fill="#fdfdfe"/><text x="1314.5" y="315.3" font-size="6.5" font-weight="bold" fill="#4aa54f" text-anchor="middle">抽出液</text><rect x="1295.57" y="317.48" width="37.86" height="7.15" fill="#fdfdfe"/><text x="1314.5" y="323.2" font-size="6.5" font-weight="bold" fill="#4aa54f" text-anchor="middle" textLength="36.7" lengthAdjust="spacingAndGlyphs">(PX+解吸剂)</text><path d="M1355.5 362.4V347.8Q1368.7 340 1382 347.8V362.4Z" fill="#fdfdfe" stroke="#3a3a3a" stroke-width="0.9"/><text x="1368.7" y="351.4" font-size="7" font-weight="bold" fill="#b5272d" text-anchor="middle">注水</text><text x="1368.7" y="360.1" font-size="7" font-weight="bold" fill="#b5272d" text-anchor="middle">罐</text><path d="M1294.5 425.9V437.4H1417.9V346.2" fill="none" stroke="#3a3a3a" stroke-width="0.9" /><path d="M1282.2 386.9A12.25 17 0 0 1 1306.7 386.9V408.9A12.25 17 0 0 1 1282.2 408.9Z" fill="#fdfdfe" stroke="#3a3a3a" stroke-width="0.9"/><g font-size="10.6" font-weight="bold" fill="#b5272d" text-anchor="middle"><text x="1294.5" y="384.12">抽</text><text x="1294.5" y="396.32">余</text><text x="1294.5" y="408.22">液</text><text x="1294.5" y="420.02">塔</text></g><path d="M1306.7 398.5H1335" fill="none" stroke="#3a3a3a" stroke-width="0.9" /><path d="M1339.2 398.5L1334 400.4L1334 396.6Z" fill="#3a3a3a"/><rect x="1318.05" y="394.98" width="9.3" height="7.15" fill="#fdfdfe"/><text x="1322.7" y="400.7" font-size="6.5" font-weight="bold" fill="#4aa54f" text-anchor="middle">C8</text><rect x="1339.2" y="384.5" width="58.6" height="28.1" rx="2" fill="none" stroke="#4aa54f" stroke-width="1" stroke-dasharray="3.2 1.8"/><text x="1368.5" y="396.9" font-size="10.7" font-weight="bold" fill="#161616" text-anchor="middle">二甲苯异</text><text x="1368.5" y="408.9" font-size="10.7" font-weight="bold" fill="#161616" text-anchor="middle">构化单元</text><rect x="1358.25" y="433.88" width="20.7" height="7.15" fill="#fdfdfe"/><text x="1368.6" y="439.6" font-size="6.5" font-weight="bold" fill="#4aa54f" text-anchor="middle">解吸剂</text><path d="M1432 314.2H1466.3V264.9H1497" fill="none" stroke="#3a3a3a" stroke-width="0.9" /><path d="M1501.5 264.9L1496.3 266.8L1496.3 263Z" fill="#3a3a3a"/><path d="M1404.6 304.7A13.7 17 0 0 1 1432 304.7V329.2A13.7 17 0 0 1 1404.6 329.2Z" fill="#fdfdfe" stroke="#3a3a3a" stroke-width="0.9"/><g font-size="10.6" font-weight="bold" fill="#b5272d" text-anchor="middle"><text x="1418.4" y="304.02">抽</text><text x="1418.4" y="315.62">出</text><text x="1418.4" y="327.32">液</text><text x="1418.4" y="338.72">塔</text></g><rect x="1407.65" y="366.18" width="20.7" height="7.15" fill="#fdfdfe"/><text x="1418" y="371.9" font-size="6.5" font-weight="bold" fill="#4aa54f" text-anchor="middle">解吸剂</text><path d="M1417.9 388.5H1448 M1450.4 369.4V405.5 M1450.4 369.4H1474 M1450.4 405.5H1474" fill="none" stroke="#3a3a3a" stroke-width="0.9" /><path d="M1452.8 388.5L1447.6 390.4L1447.6 386.6Z" fill="#3a3a3a"/><path d="M1478.1 369.4L1472.9 371.3L1472.9 367.5Z" fill="#3a3a3a"/><path d="M1478.1 405.5L1472.9 407.4L1472.9 403.6Z" fill="#3a3a3a"/><rect x="1501.5" y="242.3" width="26.3" height="45.9" rx="2" fill="#fdfdfe" stroke="#3a3a3a" stroke-width="0.9"/><g font-size="10.6" font-weight="bold" fill="#b5272d" text-anchor="middle"><text x="1514.6" y="257.72">成</text><text x="1514.6" y="269.22">品</text><text x="1514.6" y="281.12">塔</text></g><path d="M1527.8 251.2H1608" fill="none" stroke="#3a3a3a" stroke-width="0.9" /><path d="M1612.8 251.2L1607.6 253.1L1607.6 249.3Z" fill="#3a3a3a"/><rect x="1556.01" y="247.39" width="25.58" height="8.14" fill="#fdfdfe"/><text x="1568.8" y="253.9" font-size="7.4" font-weight="bold" fill="#1f55a5" text-anchor="middle">PX产品</text><path d="M1514.6 293V314.7H1535" fill="none" stroke="#3a3a3a" stroke-width="0.9" stroke-dasharray="2.6 2"/><path d="M1514.6 288.5L1516.5 293.7L1512.7 293.7Z" fill="#3a3a3a"/><path d="M1539.3 314.7L1534.1 316.6L1534.1 312.8Z" fill="#3a3a3a"/><rect x="1508" y="301.72" width="13.2" height="6.6" fill="#fdfdfe"/><text x="1514.6" y="307" font-size="6" fill="#333" text-anchor="middle">换热</text><path d="M1539.3 314.7L1562.5 300.5L1585.8 314.7L1562.5 329Z" fill="#fdfdfe" stroke="#4aa54f" stroke-width="1"/><text x="1562.5" y="313.4" font-size="6.6" font-weight="bold" fill="#4aa54f" text-anchor="middle">成品塔</text><text x="1562.5" y="322.4" font-size="6.6" font-weight="bold" fill="#4aa54f" text-anchor="middle">再沸器</text><rect x="1478.1" y="352.9" width="46.6" height="32" rx="10" fill="#fdfdfe" stroke="#3a3a3a" stroke-width="0.9"/><text x="1501.4" y="367.8" font-size="10.6" font-weight="bold" fill="#b5272d" text-anchor="middle">解吸剂</text><text x="1501.4" y="379.1" font-size="10.6" font-weight="bold" fill="#b5272d" text-anchor="middle">缓冲罐</text><rect x="1478.1" y="389.4" width="46.6" height="32" rx="10" fill="#fdfdfe" stroke="#3a3a3a" stroke-width="0.9"/><text x="1501.4" y="404.3" font-size="10.6" font-weight="bold" fill="#b5272d" text-anchor="middle">解吸剂</text><text x="1501.4" y="415.6" font-size="10.6" font-weight="bold" fill="#b5272d" text-anchor="middle">再生塔</text><path d="M1524.7 369.7H1598.6V314.6H1590" fill="none" stroke="#3a3a3a" stroke-width="0.9" /><path d="M1585.9 314.6L1591.1 312.7L1591.1 316.5Z" fill="#3a3a3a"/><rect x="1544.45" y="366.18" width="20.7" height="7.15" fill="#fdfdfe"/><text x="1554.8" y="371.9" font-size="6.5" font-weight="bold" fill="#4aa54f" text-anchor="middle">解吸剂</text><path d="M1524.7 405.5H1578" fill="none" stroke="#3a3a3a" stroke-width="0.9" /><path d="M1582.2 405.5L1577 407.4L1577 403.6Z" fill="#3a3a3a"/><rect x="1542.65" y="401.98" width="20.7" height="7.15" fill="#fdfdfe"/><text x="1553" y="407.7" font-size="6.5" font-weight="bold" fill="#4aa54f" text-anchor="middle">解吸剂</text><text x="1304.5" y="462.3" font-size="10.8" font-weight="bold" fill="#b5272d">吸附分离单元</text>
<g font-size="18.24" font-weight="300" fill="#1c1c1c"><text x="1184.3" y="504">吸附分离单元</text><text x="1211.7" y="528.93" textLength="401.3" lengthAdjust="spacingAndGlyphs">进料来自二甲苯精制单元的二甲苯塔塔顶产物和歧</text><text x="1184.3" y="553.86" textLength="331.3" lengthAdjust="spacingAndGlyphs">化单元的二甲苯塔塔顶馏分的C8芳烃物。</text><text x="1211.7" y="578.79" textLength="404.1" lengthAdjust="spacingAndGlyphs">先用特定分子筛吸附剂选择吸附PX，再用专门的解</text><text x="1184.3" y="603.72" textLength="367.6" lengthAdjust="spacingAndGlyphs">吸剂把被吸附的PX解吸下来，实现分离目的。</text><text x="1211.7" y="628.65" textLength="401.3" lengthAdjust="spacingAndGlyphs">一般通过旋转阀（开关阀）实现吸附床层的模拟移</text><text x="1184.3" y="653.58">动，保证装置操作连续性。</text><text x="1211.7" y="678.51" textLength="375" lengthAdjust="spacingAndGlyphs">本过程可采用美国UOP公司的Parex工艺和法国</text><text x="1184.3" y="703.44" textLength="183.5" lengthAdjust="spacingAndGlyphs">IFP公司的Eluxyl工艺。</text></g><rect x="1290" y="764.4" width="109.6" height="106.3" fill="#fff"/><path d="M1294.4 768.8h21.28v3h-21.28zM1318.67 768.8h15.22v3h-15.22zM1336.87 768.8h6.12v3h-6.12zM1352.03 768.8h3.08v3h-3.08zM1358.1 768.8h3.08v3h-3.08zM1364.17 768.8h6.12v3h-6.12zM1373.27 768.8h21.28v3h-21.28zM1294.4 771.75h3.08v3h-3.08zM1312.6 771.75h3.08v3h-3.08zM1318.67 771.75h3.08v3h-3.08zM1327.77 771.75h3.08v3h-3.08zM1342.93 771.75h3.08v3h-3.08zM1349 771.75h6.12v3h-6.12zM1358.1 771.75h9.15v3h-9.15zM1373.27 771.75h3.08v3h-3.08zM1391.47 771.75h3.08v3h-3.08zM1294.4 774.71h3.08v3h-3.08zM1300.47 774.71h9.15v3h-9.15zM1312.6 774.71h3.08v3h-3.08zM1321.7 774.71h6.12v3h-6.12zM1330.8 774.71h15.22v3h-15.22zM1349 774.71h9.15v3h-9.15zM1361.13 774.71h6.12v3h-6.12zM1373.27 774.71h3.08v3h-3.08zM1379.33 774.71h9.15v3h-9.15zM1391.47 774.71h3.08v3h-3.08zM1294.4 777.66h3.08v3h-3.08zM1300.47 777.66h9.15v3h-9.15zM1312.6 777.66h3.08v3h-3.08zM1318.67 777.66h6.12v3h-6.12zM1333.83 777.66h3.08v3h-3.08zM1342.93 777.66h3.08v3h-3.08zM1358.1 777.66h9.15v3h-9.15zM1373.27 777.66h3.08v3h-3.08zM1379.33 777.66h9.15v3h-9.15zM1391.47 777.66h3.08v3h-3.08zM1294.4 780.62h3.08v3h-3.08zM1300.47 780.62h9.15v3h-9.15zM1312.6 780.62h3.08v3h-3.08zM1318.67 780.62h6.12v3h-6.12zM1330.8 780.62h18.25v3h-18.25zM1352.03 780.62h6.12v3h-6.12zM1364.17 780.62h3.08v3h-3.08zM1373.27 780.62h3.08v3h-3.08zM1379.33 780.62h9.15v3h-9.15zM1391.47 780.62h3.08v3h-3.08zM1294.4 783.57h3.08v3h-3.08zM1312.6 783.57h3.08v3h-3.08zM1327.77 783.57h21.28v3h-21.28zM1355.07 783.57h3.08v3h-3.08zM1367.2 783.57h3.08v3h-3.08zM1373.27 783.57h3.08v3h-3.08zM1391.47 783.57h3.08v3h-3.08zM1294.4 786.53h21.28v3h-21.28zM1318.67 786.53h3.08v3h-3.08zM1324.73 786.53h3.08v3h-3.08zM1333.83 786.53h6.12v3h-6.12zM1345.97 786.53h9.15v3h-9.15zM1361.13 786.53h3.08v3h-3.08zM1373.27 786.53h21.28v3h-21.28zM1321.7 789.48h9.15v3h-9.15zM1333.83 789.48h6.12v3h-6.12zM1345.97 789.48h3.08v3h-3.08zM1352.03 789.48h3.08v3h-3.08zM1361.13 789.48h9.15v3h-9.15zM1300.47 792.44h3.08v3h-3.08zM1306.53 792.44h6.12v3h-6.12zM1315.63 792.44h3.08v3h-3.08zM1327.77 792.44h3.08v3h-3.08zM1333.83 792.44h6.12v3h-6.12zM1342.93 792.44h3.08v3h-3.08zM1349 792.44h3.08v3h-3.08zM1364.17 792.44h3.08v3h-3.08zM1376.3 792.44h18.25v3h-18.25zM1303.5 795.39h3.08v3h-3.08zM1312.6 795.39h3.08v3h-3.08zM1321.7 795.39h3.08v3h-3.08zM1327.77 795.39h6.12v3h-6.12zM1339.9 795.39h18.25v3h-18.25zM1361.13 795.39h3.08v3h-3.08zM1367.2 795.39h9.15v3h-9.15zM1379.33 795.39h6.12v3h-6.12zM1294.4 798.35h9.15v3h-9.15zM1306.53 798.35h9.15v3h-9.15zM1321.7 798.35h6.12v3h-6.12zM1336.87 798.35h6.12v3h-6.12zM1345.97 798.35h6.12v3h-6.12zM1361.13 798.35h3.08v3h-3.08zM1367.2 798.35h3.08v3h-3.08zM1373.27 798.35h6.12v3h-6.12zM1385.4 798.35h6.12v3h-6.12zM1294.4 801.3h21.28v3h-21.28zM1318.67 801.3h21.28v3h-21.28zM1345.97 801.3h6.12v3h-6.12zM1355.07 801.3h3.08v3h-3.08zM1361.13 801.3h6.12v3h-6.12zM1370.23 801.3h6.12v3h-6.12zM1382.37 801.3h3.08v3h-3.08zM1294.4 804.25h15.22v3h-15.22zM1312.6 804.25h9.15v3h-9.15zM1330.8 804.25h21.28v3h-21.28zM1361.13 804.25h3.08v3h-3.08zM1367.2 804.25h27.35v3h-27.35zM1294.4 807.21h21.28v3h-21.28zM1333.83 807.21h6.12v3h-6.12zM1342.93 807.21h3.08v3h-3.08zM1352.03 807.21h3.08v3h-3.08zM1370.23 807.21h3.08v3h-3.08zM1376.3 807.21h3.08v3h-3.08zM1300.47 810.16h15.22v3h-15.22zM1330.8 810.16h6.12v3h-6.12zM1342.93 810.16h3.08v3h-3.08zM1352.03 810.16h3.08v3h-3.08zM1358.1 810.16h9.15v3h-9.15zM1370.23 810.16h3.08v3h-3.08zM1379.33 810.16h9.15v3h-9.15zM1300.47 813.12h9.15v3h-9.15zM1312.6 813.12h3.08v3h-3.08zM1318.67 813.12h9.15v3h-9.15zM1336.87 813.12h15.22v3h-15.22zM1355.07 813.12h3.08v3h-3.08zM1364.17 813.12h6.12v3h-6.12zM1376.3 813.12h9.15v3h-9.15zM1388.43 813.12h3.08v3h-3.08zM1294.4 816.07h3.08v3h-3.08zM1303.5 816.07h3.08v3h-3.08zM1309.57 816.07h3.08v3h-3.08zM1318.67 816.07h3.08v3h-3.08zM1324.73 816.07h27.35v3h-27.35zM1355.07 816.07h3.08v3h-3.08zM1364.17 816.07h3.08v3h-3.08zM1376.3 816.07h9.15v3h-9.15zM1391.47 816.07h3.08v3h-3.08zM1294.4 819.03h12.18v3h-12.18zM1309.57 819.03h3.08v3h-3.08zM1315.63 819.03h15.22v3h-15.22zM1355.07 819.03h3.08v3h-3.08zM1361.13 819.03h3.08v3h-3.08zM1370.23 819.03h6.12v3h-6.12zM1379.33 819.03h12.18v3h-12.18zM1297.43 821.98h3.08v3h-3.08zM1303.5 821.98h3.08v3h-3.08zM1309.57 821.98h12.18v3h-12.18zM1324.73 821.98h6.12v3h-6.12zM1336.87 821.98h24.32v3h-24.32zM1370.23 821.98h6.12v3h-6.12zM1379.33 821.98h12.18v3h-12.18zM1294.4 824.94h6.12v3h-6.12zM1306.53 824.94h15.22v3h-15.22zM1330.8 824.94h6.12v3h-6.12zM1342.93 824.94h3.08v3h-3.08zM1349 824.94h6.12v3h-6.12zM1367.2 824.94h9.15v3h-9.15zM1294.4 827.89h3.08v3h-3.08zM1300.47 827.89h3.08v3h-3.08zM1306.53 827.89h3.08v3h-3.08zM1315.63 827.89h9.15v3h-9.15zM1330.8 827.89h6.12v3h-6.12zM1342.93 827.89h6.12v3h-6.12zM1352.03 827.89h9.15v3h-9.15zM1370.23 827.89h9.15v3h-9.15zM1385.4 827.89h9.15v3h-9.15zM1297.43 830.85h6.12v3h-6.12zM1309.57 830.85h12.18v3h-12.18zM1324.73 830.85h3.08v3h-3.08zM1333.83 830.85h6.12v3h-6.12zM1342.93 830.85h3.08v3h-3.08zM1349 830.85h6.12v3h-6.12zM1358.1 830.85h3.08v3h-3.08zM1364.17 830.85h12.18v3h-12.18zM1382.37 830.85h9.15v3h-9.15zM1294.4 833.8h12.18v3h-12.18zM1321.7 833.8h6.12v3h-6.12zM1333.83 833.8h3.08v3h-3.08zM1339.9 833.8h21.28v3h-21.28zM1364.17 833.8h3.08v3h-3.08zM1370.23 833.8h6.12v3h-6.12zM1382.37 833.8h12.18v3h-12.18zM1297.43 836.75h6.12v3h-6.12zM1306.53 836.75h6.12v3h-6.12zM1318.67 836.75h9.15v3h-9.15zM1330.8 836.75h3.08v3h-3.08zM1339.9 836.75h6.12v3h-6.12zM1352.03 836.75h3.08v3h-3.08zM1358.1 836.75h9.15v3h-9.15zM1379.33 836.75h9.15v3h-9.15zM1294.4 839.71h12.18v3h-12.18zM1309.57 839.71h3.08v3h-3.08zM1327.77 839.71h9.15v3h-9.15zM1339.9 839.71h6.12v3h-6.12zM1349 839.71h9.15v3h-9.15zM1361.13 839.71h3.08v3h-3.08zM1367.2 839.71h18.25v3h-18.25zM1388.43 839.71h6.12v3h-6.12zM1318.67 842.66h3.08v3h-3.08zM1324.73 842.66h3.08v3h-3.08zM1330.8 842.66h12.18v3h-12.18zM1349 842.66h6.12v3h-6.12zM1358.1 842.66h6.12v3h-6.12zM1367.2 842.66h3.08v3h-3.08zM1379.33 842.66h3.08v3h-3.08zM1388.43 842.66h6.12v3h-6.12zM1294.4 845.62h21.28v3h-21.28zM1318.67 845.62h3.08v3h-3.08zM1327.77 845.62h3.08v3h-3.08zM1336.87 845.62h15.22v3h-15.22zM1358.1 845.62h12.18v3h-12.18zM1373.27 845.62h3.08v3h-3.08zM1379.33 845.62h3.08v3h-3.08zM1385.4 845.62h9.15v3h-9.15zM1294.4 848.57h3.08v3h-3.08zM1312.6 848.57h3.08v3h-3.08zM1321.7 848.57h3.08v3h-3.08zM1327.77 848.57h6.12v3h-6.12zM1339.9 848.57h6.12v3h-6.12zM1349 848.57h6.12v3h-6.12zM1358.1 848.57h3.08v3h-3.08zM1364.17 848.57h6.12v3h-6.12zM1379.33 848.57h3.08v3h-3.08zM1388.43 848.57h3.08v3h-3.08zM1294.4 851.53h3.08v3h-3.08zM1300.47 851.53h9.15v3h-9.15zM1312.6 851.53h3.08v3h-3.08zM1324.73 851.53h6.12v3h-6.12zM1336.87 851.53h6.12v3h-6.12zM1345.97 851.53h3.08v3h-3.08zM1358.1 851.53h3.08v3h-3.08zM1364.17 851.53h30.38v3h-30.38zM1294.4 854.48h3.08v3h-3.08zM1300.47 854.48h9.15v3h-9.15zM1312.6 854.48h3.08v3h-3.08zM1318.67 854.48h3.08v3h-3.08zM1330.8 854.48h6.12v3h-6.12zM1339.9 854.48h3.08v3h-3.08zM1345.97 854.48h9.15v3h-9.15zM1358.1 854.48h6.12v3h-6.12zM1370.23 854.48h24.32v3h-24.32zM1294.4 857.44h3.08v3h-3.08zM1300.47 857.44h9.15v3h-9.15zM1312.6 857.44h3.08v3h-3.08zM1318.67 857.44h6.12v3h-6.12zM1327.77 857.44h3.08v3h-3.08zM1342.93 857.44h3.08v3h-3.08zM1349 857.44h3.08v3h-3.08zM1358.1 857.44h3.08v3h-3.08zM1367.2 857.44h6.12v3h-6.12zM1376.3 857.44h3.08v3h-3.08zM1382.37 857.44h3.08v3h-3.08zM1388.43 857.44h6.12v3h-6.12zM1294.4 860.39h3.08v3h-3.08zM1312.6 860.39h3.08v3h-3.08zM1327.77 860.39h3.08v3h-3.08zM1333.83 860.39h3.08v3h-3.08zM1342.93 860.39h3.08v3h-3.08zM1358.1 860.39h3.08v3h-3.08zM1367.2 860.39h3.08v3h-3.08zM1373.27 860.39h3.08v3h-3.08zM1382.37 860.39h3.08v3h-3.08zM1388.43 860.39h6.12v3h-6.12zM1294.4 863.35h21.28v3h-21.28zM1318.67 863.35h12.18v3h-12.18zM1333.83 863.35h6.12v3h-6.12zM1342.93 863.35h6.12v3h-6.12zM1352.03 863.35h18.25v3h-18.25zM1376.3 863.35h3.08v3h-3.08zM1382.37 863.35h6.12v3h-6.12zM1391.47 863.35h3.08v3h-3.08z" fill="#0f6b3b"/><g font-size="16.2" font-weight="bold" fill="#0c0c0c"><text class="s" x="1403.2" y="784.6" textLength="68.55" lengthAdjust="spacing">材化学院</text><text class="s" x="1403.2" y="810" textLength="140.45" lengthAdjust="spacing">实验教学示范中心</text><text class="s" x="1403.2" y="835" textLength="159.8" lengthAdjust="spacing">化学工程与工艺专业</text><text class="s" x="1403.2" y="859.8" textLength="185.8" lengthAdjust="spacing">年产45万吨PX仿真实训</text></g><g transform="translate(1293.6 881.6) scale(1 0.64)"><text class="s" x="0" y="0" font-size="16.4" font-weight="bold" fill="#0c0c0c" textLength="106.1" lengthAdjust="spacing">吸附分离单元</text></g>
<g font-size="19" fill="#000"><text transform="translate(108.4 179) rotate(-19.9)" textLength="344.8" lengthAdjust="spacing">宁波大学材料科学与化学工程学院内部资料</text><text transform="translate(643 179) rotate(-19.9)" textLength="344.8" lengthAdjust="spacing">宁波大学材料科学与化学工程学院内部资料</text><text transform="translate(1177.6 179) rotate(-19.9)" textLength="344.8" lengthAdjust="spacing">宁波大学材料科学与化学工程学院内部资料</text><text transform="translate(108.4 407) rotate(-19.9)" textLength="344.8" lengthAdjust="spacing">宁波大学材料科学与化学工程学院内部资料</text><text transform="translate(643 407) rotate(-19.9)" textLength="344.8" lengthAdjust="spacing">宁波大学材料科学与化学工程学院内部资料</text><text transform="translate(1177.6 407) rotate(-19.9)" textLength="344.8" lengthAdjust="spacing">宁波大学材料科学与化学工程学院内部资料</text><text transform="translate(108.4 635) rotate(-19.9)" textLength="344.8" lengthAdjust="spacing">宁波大学材料科学与化学工程学院内部资料</text><text transform="translate(643 635) rotate(-19.9)" textLength="344.8" lengthAdjust="spacing">宁波大学材料科学与化学工程学院内部资料</text><text transform="translate(1177.6 635) rotate(-19.9)" textLength="344.8" lengthAdjust="spacing">宁波大学材料科学与化学工程学院内部资料</text><text transform="translate(108.4 863) rotate(-19.9)" textLength="344.8" lengthAdjust="spacing">宁波大学材料科学与化学工程学院内部资料</text><text transform="translate(643 863) rotate(-19.9)" textLength="344.8" lengthAdjust="spacing">宁波大学材料科学与化学工程学院内部资料</text><text transform="translate(1177.6 863) rotate(-19.9)" textLength="344.8" lengthAdjust="spacing">宁波大学材料科学与化学工程学院内部资料</text></g></svg>
<div class="t" style="left:440px;top:40px;font-size:37px;width:770px">年产45万吨PX(对二甲苯)半实物仿真实训装置</div><div class="t" style="left:690px;top:100px;font-size:41px;width:260px">吸附分离单元</div><div class="t" style="left:38px;top:87px;font-size:14px;width:222px">宁波大学材料科学与化学工程学院</div><div class="t" style="left:82px;top:204px;font-size:8px;width:70px">解吸剂过滤器</div><div class="t" style="left:678px;top:428px;font-size:8px;width:70px">管区解吸剂输送泵</div><div class="t" style="left:920px;top:293px;font-size:8px;width:70px">解吸剂泵出口冷却器</div><div class="t" style="left:126px;top:490px;font-size:8px;width:70px">2#吸附塔循环泵</div><div class="t" style="left:194px;top:490px;font-size:8px;width:70px">1#吸附塔</div><div class="t" style="left:240px;top:490px;font-size:8px;width:70px">旋转阀</div><div class="t" style="left:281px;top:490px;font-size:8px;width:70px">2#吸附塔</div><div class="t" style="left:346px;top:490px;font-size:8px;width:70px">1#吸附塔循环泵</div><div class="t" style="left:434px;top:490px;font-size:8px;width:70px">进料过滤器</div><div class="t" style="left:696px;top:490px;font-size:8px;width:70px">塔底换热器</div><div class="t" style="left:766px;top:490px;font-size:8px;width:70px">抽余液塔重沸器</div><div class="t" style="left:846px;top:490px;font-size:8px;width:70px">抽余液塔</div><div class="t" style="left:900px;top:490px;font-size:8px;width:70px">塔底泵</div><div class="t" style="left:952px;top:490px;font-size:8px;width:70px">塔顶空冷器</div><div class="t" style="left:1004px;top:490px;font-size:8px;width:70px">侧线缓冲罐</div><div class="t" style="left:81px;top:858px;font-size:8px;width:56px">侧线缓冲罐</div><div class="t" style="left:125px;top:858px;font-size:8px;width:50px">回流泵</div><div class="t" style="left:162px;top:858px;font-size:8px;width:58px">回流罐</div><div class="t" style="left:206px;top:858px;font-size:8px;width:56px">放空罐</div><div class="t" style="left:249px;top:858px;font-size:8px;width:67px">放空冷凝器</div><div class="t" style="left:301px;top:858px;font-size:8px;width:70px">塔底水冷器</div><div class="t" style="left:357px;top:858px;font-size:8px;width:72px">解吸剂再蒸馏塔</div><div class="t" style="left:414px;top:858px;font-size:8px;width:54px">再沸器</div><div class="t" style="left:451px;top:858px;font-size:8px;width:54px">塔底泵</div><div class="t" style="left:493px;top:858px;font-size:8px;width:49px">抽出液塔</div><div class="t" style="left:527px;top:858px;font-size:8px;width:58px">重沸器</div><div class="t" style="left:570px;top:858px;font-size:8px;width:67px">塔底换热器</div><div class="t" style="left:622px;top:858px;font-size:8px;width:48px">空冷器</div><div class="t" style="left:659px;top:858px;font-size:8px;width:56px">回流泵</div><div class="t" style="left:701px;top:858px;font-size:8px;width:59px">回流罐</div><div class="t" style="left:744px;top:858px;font-size:8px;width:53px">换热器</div><div class="t" style="left:785px;top:858px;font-size:8px;width:60px">PX水冷器</div><div class="t" style="left:831px;top:858px;font-size:8px;width:64px">空冷器</div><div class="t" style="left:880px;top:858px;font-size:8px;width:54px">塔底泵</div><div class="t" style="left:919px;top:858px;font-size:8px;width:54px">再沸器</div><div class="t" style="left:957px;top:858px;font-size:8px;width:58px">PX空冷器</div><div class="t" style="left:998px;top:858px;font-size:8px;width:57px">PX成品塔</div><div class="t" style="left:1040px;top:858px;font-size:8px;width:55px">塔顶泵</div><div class="t" style="left:1080px;top:858px;font-size:8px;width:56px">回流罐</div><div class="t" style="left:1126px;top:858px;font-size:8px;width:59px">塔顶水冷器</div><div class="t" style="left:172px;top:518px;font-size:9px;width:90px">冷却水</div><div class="t" style="left:256px;top:708px;font-size:9px;width:90px">异构化进料泵</div><div class="t" style="left:425px;top:779px;font-size:9px;width:90px">至废解吸剂罐</div><div class="t" style="left:568px;top:686px;font-size:9px;width:90px">至二甲苯塔底泵</div><div class="t" style="left:696px;top:787px;font-size:9px;width:90px">至对二甲苯产品检查罐</div><div class="t" style="left:720px;top:811px;font-size:9px;width:90px">不合格产品储罐</div><div class="t" style="left:1035px;top:702px;font-size:9px;width:90px">至老芳烃歧化缓冲罐</div><div class="t" style="left:1004px;top:734px;font-size:9px;width:90px">蒸汽总管</div><div class="t" style="left:1086px;top:582px;font-size:9px;width:90px">排空管道</div><div class="t" style="left:403px;top:545px;font-size:9px;width:90px">排空管路</div><div class="t" style="left:1304px;top:452px;font-size:11px;width:70px">吸附分离单元</div><div class="t" style="left:1176px;top:230px;font-size:8px;width:60px">吸收塔A</div><div class="t" style="left:1255px;top:264px;font-size:8px;width:60px">旋转阀</div><div class="t" style="left:1340px;top:234px;font-size:8px;width:60px">吸收塔B</div><div class="t" style="left:1172px;top:335px;font-size:8px;width:60px">原料储罐</div><div class="t" style="left:1085px;top:314px;font-size:8px;width:60px">二甲苯精馏单元</div><div class="t" style="left:1085px;top:355px;font-size:8px;width:60px">歧化单元</div><div class="t" style="left:1283px;top:376px;font-size:8px;width:60px">抽余液塔</div><div class="t" style="left:1340px;top:388px;font-size:8px;width:60px">二甲苯异构化单元</div><div class="t" style="left:1406px;top:296px;font-size:8px;width:60px">抽出液塔</div><div class="t" style="left:1503px;top:250px;font-size:8px;width:60px">成品塔</div><div class="t" style="left:1556px;top:246px;font-size:8px;width:60px">PX产品</div><div class="t" style="left:1545px;top:306px;font-size:8px;width:60px">成品塔再沸器</div><div class="t" style="left:1480px;top:356px;font-size:8px;width:60px">解吸剂缓冲罐</div><div class="t" style="left:1480px;top:393px;font-size:8px;width:60px">解吸剂再生塔</div><div class="t" style="left:1357px;top:345px;font-size:8px;width:60px">注水罐</div><div class="t" style="left:1184px;top:487px;font-size:18px;width:440px">吸附分离单元</div><div class="t" style="left:1211px;top:511px;font-size:18px;width:429px">进料来自二甲苯精制单元的二甲苯塔塔顶产物和歧</div><div class="t" style="left:1184px;top:536px;font-size:18px;width:440px">化单元的二甲苯塔塔顶馏分的C8芳烃物。</div><div class="t" style="left:1211px;top:561px;font-size:18px;width:429px">先用特定分子筛吸附剂选择吸附PX，再用专门的解</div><div class="t" style="left:1184px;top:586px;font-size:18px;width:440px">吸剂把被吸附的PX解吸下来，实现分离目的。</div><div class="t" style="left:1211px;top:611px;font-size:18px;width:429px">一般通过旋转阀（开关阀）实现吸附床层的模拟移</div><div class="t" style="left:1184px;top:636px;font-size:18px;width:440px">动，保证装置操作连续性。</div><div class="t" style="left:1211px;top:661px;font-size:18px;width:429px">本过程可采用美国UOP公司的Parex工艺和法国</div><div class="t" style="left:1184px;top:686px;font-size:18px;width:440px">IFP公司的Eluxyl工艺。</div><div class="t" style="left:1403px;top:770px;font-size:16px;width:190px">材化学院</div><div class="t" style="left:1403px;top:795px;font-size:16px;width:190px">实验教学示范中心</div><div class="t" style="left:1403px;top:820px;font-size:16px;width:190px">化学工程与工艺专业</div><div class="t" style="left:1403px;top:845px;font-size:16px;width:190px">年产45万吨PX仿真实训</div><div class="t" style="left:1293px;top:871px;font-size:10px;width:110px">吸附分离单元</div><div class="t" style="left:1180px;top:60px;font-size:12px;width:330px">宁波大学材料科学与化学工程学院内部资料</div>
</body></html>
